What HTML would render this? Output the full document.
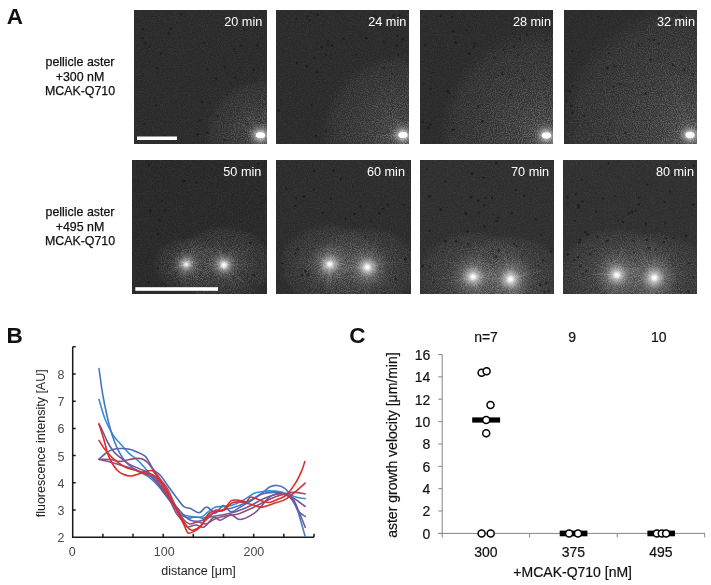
<!DOCTYPE html>
<html><head><meta charset="utf-8"><style>
html,body{margin:0;padding:0;background:#fff;width:711px;height:585px;overflow:hidden}
svg{display:block;will-change:transform}
text{font-family:"Liberation Sans",sans-serif}
.tm{font-size:12.7px;fill:#fff}
.rl{font-size:12.4px;fill:#111;stroke:#111;stroke-width:0.25px}
.pl{font-size:22.5px;font-weight:bold;fill:#111}
.bt{font-size:12.5px;fill:#4a4a4a}
.bl{font-size:12.5px;fill:#222}
.ct{font-size:14px;fill:#111;stroke:#111;stroke-width:0.2px}
.cl{font-size:14px;fill:#111;stroke:#111;stroke-width:0.2px}
</style></head><body>
<svg width="711" height="585" viewBox="0 0 711 585">
<defs>
<filter id="grain" x="0" y="0" width="100%" height="100%" color-interpolation-filters="sRGB">
  <feTurbulence type="fractalNoise" baseFrequency="0.93" numOctaves="2" seed="5"/>
  <feColorMatrix type="matrix" values="0 0 0 0 1  0 0 0 0 1  0 0 0 0 1  2.8 0 0 0 -1.05"/>
  <feGaussianBlur stdDeviation="0.45"/>
</filter>
<filter id="grainD" x="0" y="0" width="100%" height="100%" color-interpolation-filters="sRGB">
  <feTurbulence type="fractalNoise" baseFrequency="0.8" numOctaves="1" seed="11"/>
  <feColorMatrix type="matrix" values="0 0 0 0 0  0 0 0 0 0  0 0 0 0 0  -2.5 0 0 0 1.05"/>
</filter>
<filter id="blur1" x="-100%" y="-100%" width="300%" height="300%"><feGaussianBlur stdDeviation="2"/></filter>
<filter id="blur09" x="-50%" y="-50%" width="200%" height="200%"><feGaussianBlur stdDeviation="0.9"/></filter>
<filter id="blur3" x="-200%" y="-200%" width="500%" height="500%"><feGaussianBlur stdDeviation="3"/></filter>
<filter id="blur12" x="-100%" y="-100%" width="300%" height="300%"><feGaussianBlur stdDeviation="1.2"/></filter>
<filter id="blur05" x="-50%" y="-50%" width="200%" height="200%"><feGaussianBlur stdDeviation="0.6"/></filter>

<clipPath id="clip0"><rect x="134" y="10" width="133" height="134"/></clipPath>
<radialGradient id="rg0" cx="260.5" cy="135.2" r="56.0" gradientUnits="userSpaceOnUse" gradientTransform="translate(260.5 135.2) scale(1 1.00) translate(-260.5 -135.2)"><stop offset="0" stop-color="#777" stop-opacity="0.22"/><stop offset="0.3" stop-color="#666" stop-opacity="0.15"/><stop offset="0.85" stop-color="#555" stop-opacity="0.10"/><stop offset="1" stop-color="#555" stop-opacity="0"/></radialGradient>
<radialGradient id="gc1" cx="260.5" cy="135.2" r="14.0" gradientUnits="userSpaceOnUse"><stop offset="0" stop-color="#fff" stop-opacity="0.9"/><stop offset="0.2" stop-color="#ddd" stop-opacity="0.55"/><stop offset="0.5" stop-color="#999" stop-opacity="0.22"/><stop offset="1" stop-color="#777" stop-opacity="0"/></radialGradient>
<radialGradient id="gm2" cx="260.5" cy="135.2" r="56.0" gradientUnits="userSpaceOnUse" gradientTransform="translate(260.5 135.2) scale(1 1.00) translate(-260.5 -135.2)"><stop offset="0" stop-color="#fff" stop-opacity="1"/><stop offset="0.2" stop-color="#fff" stop-opacity="0.65"/><stop offset="0.6" stop-color="#fff" stop-opacity="0.38"/><stop offset="0.88" stop-color="#fff" stop-opacity="0.22"/><stop offset="1" stop-color="#fff" stop-opacity="0"/></radialGradient>
<mask id="m0" maskUnits="userSpaceOnUse" x="134" y="10" width="133" height="134"><rect x="134" y="10" width="133" height="134" fill="url(#gm2)"/></mask>
<clipPath id="clip3"><rect x="276" y="10" width="133" height="134"/></clipPath>
<radialGradient id="rg3" cx="403.0" cy="135.0" r="82.0" gradientUnits="userSpaceOnUse" gradientTransform="translate(403.0 135.0) scale(1 1.00) translate(-403.0 -135.0)"><stop offset="0" stop-color="#777" stop-opacity="0.24"/><stop offset="0.3" stop-color="#666" stop-opacity="0.17"/><stop offset="0.85" stop-color="#555" stop-opacity="0.11"/><stop offset="1" stop-color="#555" stop-opacity="0"/></radialGradient>
<radialGradient id="gc4" cx="403.0" cy="135.0" r="14.0" gradientUnits="userSpaceOnUse"><stop offset="0" stop-color="#fff" stop-opacity="0.9"/><stop offset="0.2" stop-color="#ddd" stop-opacity="0.55"/><stop offset="0.5" stop-color="#999" stop-opacity="0.22"/><stop offset="1" stop-color="#777" stop-opacity="0"/></radialGradient>
<radialGradient id="gm5" cx="403.0" cy="135.0" r="82.0" gradientUnits="userSpaceOnUse" gradientTransform="translate(403.0 135.0) scale(1 1.00) translate(-403.0 -135.0)"><stop offset="0" stop-color="#fff" stop-opacity="1"/><stop offset="0.2" stop-color="#fff" stop-opacity="0.65"/><stop offset="0.6" stop-color="#fff" stop-opacity="0.38"/><stop offset="0.88" stop-color="#fff" stop-opacity="0.22"/><stop offset="1" stop-color="#fff" stop-opacity="0"/></radialGradient>
<mask id="m3" maskUnits="userSpaceOnUse" x="276" y="10" width="133" height="134"><rect x="276" y="10" width="133" height="134" fill="url(#gm5)"/></mask>
<clipPath id="clip6"><rect x="420" y="10" width="133" height="134"/></clipPath>
<radialGradient id="rg6" cx="546.5" cy="135.5" r="108.0" gradientUnits="userSpaceOnUse" gradientTransform="translate(546.5 135.5) scale(1 1.00) translate(-546.5 -135.5)"><stop offset="0" stop-color="#777" stop-opacity="0.24"/><stop offset="0.3" stop-color="#666" stop-opacity="0.17"/><stop offset="0.85" stop-color="#555" stop-opacity="0.11"/><stop offset="1" stop-color="#555" stop-opacity="0"/></radialGradient>
<radialGradient id="gc7" cx="546.5" cy="135.5" r="14.0" gradientUnits="userSpaceOnUse"><stop offset="0" stop-color="#fff" stop-opacity="0.9"/><stop offset="0.2" stop-color="#ddd" stop-opacity="0.55"/><stop offset="0.5" stop-color="#999" stop-opacity="0.22"/><stop offset="1" stop-color="#777" stop-opacity="0"/></radialGradient>
<radialGradient id="gm8" cx="546.5" cy="135.5" r="108.0" gradientUnits="userSpaceOnUse" gradientTransform="translate(546.5 135.5) scale(1 1.00) translate(-546.5 -135.5)"><stop offset="0" stop-color="#fff" stop-opacity="1"/><stop offset="0.2" stop-color="#fff" stop-opacity="0.65"/><stop offset="0.6" stop-color="#fff" stop-opacity="0.38"/><stop offset="0.88" stop-color="#fff" stop-opacity="0.22"/><stop offset="1" stop-color="#fff" stop-opacity="0"/></radialGradient>
<mask id="m6" maskUnits="userSpaceOnUse" x="420" y="10" width="133" height="134"><rect x="420" y="10" width="133" height="134" fill="url(#gm8)"/></mask>
<clipPath id="clip9"><rect x="564" y="10" width="133" height="134"/></clipPath>
<radialGradient id="rg9" cx="690.0" cy="135.0" r="132.0" gradientUnits="userSpaceOnUse" gradientTransform="translate(690.0 135.0) scale(1 1.00) translate(-690.0 -135.0)"><stop offset="0" stop-color="#777" stop-opacity="0.26"/><stop offset="0.3" stop-color="#666" stop-opacity="0.18"/><stop offset="0.85" stop-color="#555" stop-opacity="0.12"/><stop offset="1" stop-color="#555" stop-opacity="0"/></radialGradient>
<radialGradient id="gc10" cx="690.0" cy="135.0" r="14.0" gradientUnits="userSpaceOnUse"><stop offset="0" stop-color="#fff" stop-opacity="0.9"/><stop offset="0.2" stop-color="#ddd" stop-opacity="0.55"/><stop offset="0.5" stop-color="#999" stop-opacity="0.22"/><stop offset="1" stop-color="#777" stop-opacity="0"/></radialGradient>
<radialGradient id="gm11" cx="690.0" cy="135.0" r="132.0" gradientUnits="userSpaceOnUse" gradientTransform="translate(690.0 135.0) scale(1 1.00) translate(-690.0 -135.0)"><stop offset="0" stop-color="#fff" stop-opacity="1"/><stop offset="0.2" stop-color="#fff" stop-opacity="0.65"/><stop offset="0.6" stop-color="#fff" stop-opacity="0.38"/><stop offset="0.88" stop-color="#fff" stop-opacity="0.22"/><stop offset="1" stop-color="#fff" stop-opacity="0"/></radialGradient>
<mask id="m9" maskUnits="userSpaceOnUse" x="564" y="10" width="133" height="134"><rect x="564" y="10" width="133" height="134" fill="url(#gm11)"/></mask>
<clipPath id="clip12"><rect x="132" y="160" width="135" height="134"/></clipPath>
<radialGradient id="rg12" cx="186.3" cy="264.3" r="34.0" gradientUnits="userSpaceOnUse" gradientTransform="translate(186.3 264.3) scale(1 0.80) translate(-186.3 -264.3)"><stop offset="0" stop-color="#777" stop-opacity="0.18"/><stop offset="0.3" stop-color="#666" stop-opacity="0.12"/><stop offset="0.85" stop-color="#555" stop-opacity="0.08"/><stop offset="1" stop-color="#555" stop-opacity="0"/></radialGradient>
<radialGradient id="gc13" cx="186.3" cy="264.3" r="15.0" gradientUnits="userSpaceOnUse"><stop offset="0" stop-color="#fff" stop-opacity="0.9"/><stop offset="0.2" stop-color="#ddd" stop-opacity="0.55"/><stop offset="0.5" stop-color="#999" stop-opacity="0.22"/><stop offset="1" stop-color="#777" stop-opacity="0"/></radialGradient>
<radialGradient id="gm14" cx="186.3" cy="264.3" r="34.0" gradientUnits="userSpaceOnUse" gradientTransform="translate(186.3 264.3) scale(1 0.80) translate(-186.3 -264.3)"><stop offset="0" stop-color="#fff" stop-opacity="1"/><stop offset="0.2" stop-color="#fff" stop-opacity="0.65"/><stop offset="0.6" stop-color="#fff" stop-opacity="0.38"/><stop offset="0.88" stop-color="#fff" stop-opacity="0.22"/><stop offset="1" stop-color="#fff" stop-opacity="0"/></radialGradient>
<radialGradient id="rg15" cx="224.0" cy="265.0" r="50.0" gradientUnits="userSpaceOnUse" gradientTransform="translate(224.0 265.0) scale(1 0.80) translate(-224.0 -265.0)"><stop offset="0" stop-color="#777" stop-opacity="0.24"/><stop offset="0.3" stop-color="#666" stop-opacity="0.17"/><stop offset="0.85" stop-color="#555" stop-opacity="0.11"/><stop offset="1" stop-color="#555" stop-opacity="0"/></radialGradient>
<radialGradient id="gc16" cx="224.0" cy="265.0" r="15.0" gradientUnits="userSpaceOnUse"><stop offset="0" stop-color="#fff" stop-opacity="0.9"/><stop offset="0.2" stop-color="#ddd" stop-opacity="0.55"/><stop offset="0.5" stop-color="#999" stop-opacity="0.22"/><stop offset="1" stop-color="#777" stop-opacity="0"/></radialGradient>
<radialGradient id="gm17" cx="224.0" cy="265.0" r="50.0" gradientUnits="userSpaceOnUse" gradientTransform="translate(224.0 265.0) scale(1 0.80) translate(-224.0 -265.0)"><stop offset="0" stop-color="#fff" stop-opacity="1"/><stop offset="0.2" stop-color="#fff" stop-opacity="0.65"/><stop offset="0.6" stop-color="#fff" stop-opacity="0.38"/><stop offset="0.88" stop-color="#fff" stop-opacity="0.22"/><stop offset="1" stop-color="#fff" stop-opacity="0"/></radialGradient>
<mask id="m12" maskUnits="userSpaceOnUse" x="132" y="160" width="135" height="134"><rect x="132" y="160" width="135" height="134" fill="url(#gm14)"/><rect x="132" y="160" width="135" height="134" fill="url(#gm17)"/></mask>
<clipPath id="clip18"><rect x="276" y="160" width="135" height="134"/></clipPath>
<radialGradient id="rg18" cx="329.8" cy="264.3" r="52.0" gradientUnits="userSpaceOnUse" gradientTransform="translate(329.8 264.3) scale(1 0.80) translate(-329.8 -264.3)"><stop offset="0" stop-color="#777" stop-opacity="0.24"/><stop offset="0.3" stop-color="#666" stop-opacity="0.17"/><stop offset="0.85" stop-color="#555" stop-opacity="0.11"/><stop offset="1" stop-color="#555" stop-opacity="0"/></radialGradient>
<radialGradient id="gc19" cx="329.8" cy="264.3" r="22.0" gradientUnits="userSpaceOnUse"><stop offset="0" stop-color="#fff" stop-opacity="0.9"/><stop offset="0.2" stop-color="#ddd" stop-opacity="0.55"/><stop offset="0.5" stop-color="#999" stop-opacity="0.22"/><stop offset="1" stop-color="#777" stop-opacity="0"/></radialGradient>
<radialGradient id="gm20" cx="329.8" cy="264.3" r="52.0" gradientUnits="userSpaceOnUse" gradientTransform="translate(329.8 264.3) scale(1 0.80) translate(-329.8 -264.3)"><stop offset="0" stop-color="#fff" stop-opacity="1"/><stop offset="0.2" stop-color="#fff" stop-opacity="0.65"/><stop offset="0.6" stop-color="#fff" stop-opacity="0.38"/><stop offset="0.88" stop-color="#fff" stop-opacity="0.22"/><stop offset="1" stop-color="#fff" stop-opacity="0"/></radialGradient>
<radialGradient id="rg21" cx="367.4" cy="267.2" r="52.0" gradientUnits="userSpaceOnUse" gradientTransform="translate(367.4 267.2) scale(1 0.80) translate(-367.4 -267.2)"><stop offset="0" stop-color="#777" stop-opacity="0.24"/><stop offset="0.3" stop-color="#666" stop-opacity="0.17"/><stop offset="0.85" stop-color="#555" stop-opacity="0.11"/><stop offset="1" stop-color="#555" stop-opacity="0"/></radialGradient>
<radialGradient id="gc22" cx="367.4" cy="267.2" r="22.0" gradientUnits="userSpaceOnUse"><stop offset="0" stop-color="#fff" stop-opacity="0.9"/><stop offset="0.2" stop-color="#ddd" stop-opacity="0.55"/><stop offset="0.5" stop-color="#999" stop-opacity="0.22"/><stop offset="1" stop-color="#777" stop-opacity="0"/></radialGradient>
<radialGradient id="gm23" cx="367.4" cy="267.2" r="52.0" gradientUnits="userSpaceOnUse" gradientTransform="translate(367.4 267.2) scale(1 0.80) translate(-367.4 -267.2)"><stop offset="0" stop-color="#fff" stop-opacity="1"/><stop offset="0.2" stop-color="#fff" stop-opacity="0.65"/><stop offset="0.6" stop-color="#fff" stop-opacity="0.38"/><stop offset="0.88" stop-color="#fff" stop-opacity="0.22"/><stop offset="1" stop-color="#fff" stop-opacity="0"/></radialGradient>
<mask id="m18" maskUnits="userSpaceOnUse" x="276" y="160" width="135" height="134"><rect x="276" y="160" width="135" height="134" fill="url(#gm20)"/><rect x="276" y="160" width="135" height="134" fill="url(#gm23)"/></mask>
<clipPath id="clip24"><rect x="420" y="160" width="134" height="134"/></clipPath>
<radialGradient id="rg24" cx="473.1" cy="276.8" r="58.0" gradientUnits="userSpaceOnUse" gradientTransform="translate(473.1 276.8) scale(1 0.80) translate(-473.1 -276.8)"><stop offset="0" stop-color="#777" stop-opacity="0.24"/><stop offset="0.3" stop-color="#666" stop-opacity="0.17"/><stop offset="0.85" stop-color="#555" stop-opacity="0.11"/><stop offset="1" stop-color="#555" stop-opacity="0"/></radialGradient>
<radialGradient id="gc25" cx="473.1" cy="276.8" r="24.0" gradientUnits="userSpaceOnUse"><stop offset="0" stop-color="#fff" stop-opacity="0.9"/><stop offset="0.2" stop-color="#ddd" stop-opacity="0.55"/><stop offset="0.5" stop-color="#999" stop-opacity="0.22"/><stop offset="1" stop-color="#777" stop-opacity="0"/></radialGradient>
<radialGradient id="gm26" cx="473.1" cy="276.8" r="58.0" gradientUnits="userSpaceOnUse" gradientTransform="translate(473.1 276.8) scale(1 0.80) translate(-473.1 -276.8)"><stop offset="0" stop-color="#fff" stop-opacity="1"/><stop offset="0.2" stop-color="#fff" stop-opacity="0.65"/><stop offset="0.6" stop-color="#fff" stop-opacity="0.38"/><stop offset="0.88" stop-color="#fff" stop-opacity="0.22"/><stop offset="1" stop-color="#fff" stop-opacity="0"/></radialGradient>
<radialGradient id="rg27" cx="510.5" cy="279.2" r="56.0" gradientUnits="userSpaceOnUse" gradientTransform="translate(510.5 279.2) scale(1 0.80) translate(-510.5 -279.2)"><stop offset="0" stop-color="#777" stop-opacity="0.24"/><stop offset="0.3" stop-color="#666" stop-opacity="0.17"/><stop offset="0.85" stop-color="#555" stop-opacity="0.11"/><stop offset="1" stop-color="#555" stop-opacity="0"/></radialGradient>
<radialGradient id="gc28" cx="510.5" cy="279.2" r="24.0" gradientUnits="userSpaceOnUse"><stop offset="0" stop-color="#fff" stop-opacity="0.9"/><stop offset="0.2" stop-color="#ddd" stop-opacity="0.55"/><stop offset="0.5" stop-color="#999" stop-opacity="0.22"/><stop offset="1" stop-color="#777" stop-opacity="0"/></radialGradient>
<radialGradient id="gm29" cx="510.5" cy="279.2" r="56.0" gradientUnits="userSpaceOnUse" gradientTransform="translate(510.5 279.2) scale(1 0.80) translate(-510.5 -279.2)"><stop offset="0" stop-color="#fff" stop-opacity="1"/><stop offset="0.2" stop-color="#fff" stop-opacity="0.65"/><stop offset="0.6" stop-color="#fff" stop-opacity="0.38"/><stop offset="0.88" stop-color="#fff" stop-opacity="0.22"/><stop offset="1" stop-color="#fff" stop-opacity="0"/></radialGradient>
<mask id="m24" maskUnits="userSpaceOnUse" x="420" y="160" width="134" height="134"><rect x="420" y="160" width="134" height="134" fill="url(#gm26)"/><rect x="420" y="160" width="134" height="134" fill="url(#gm29)"/></mask>
<clipPath id="clip30"><rect x="563" y="160" width="134" height="134"/></clipPath>
<radialGradient id="rg30" cx="616.9" cy="274.9" r="60.0" gradientUnits="userSpaceOnUse" gradientTransform="translate(616.9 274.9) scale(1 0.80) translate(-616.9 -274.9)"><stop offset="0" stop-color="#777" stop-opacity="0.24"/><stop offset="0.3" stop-color="#666" stop-opacity="0.17"/><stop offset="0.85" stop-color="#555" stop-opacity="0.11"/><stop offset="1" stop-color="#555" stop-opacity="0"/></radialGradient>
<radialGradient id="gc31" cx="616.9" cy="274.9" r="24.0" gradientUnits="userSpaceOnUse"><stop offset="0" stop-color="#fff" stop-opacity="0.9"/><stop offset="0.2" stop-color="#ddd" stop-opacity="0.55"/><stop offset="0.5" stop-color="#999" stop-opacity="0.22"/><stop offset="1" stop-color="#777" stop-opacity="0"/></radialGradient>
<radialGradient id="gm32" cx="616.9" cy="274.9" r="60.0" gradientUnits="userSpaceOnUse" gradientTransform="translate(616.9 274.9) scale(1 0.80) translate(-616.9 -274.9)"><stop offset="0" stop-color="#fff" stop-opacity="1"/><stop offset="0.2" stop-color="#fff" stop-opacity="0.65"/><stop offset="0.6" stop-color="#fff" stop-opacity="0.38"/><stop offset="0.88" stop-color="#fff" stop-opacity="0.22"/><stop offset="1" stop-color="#fff" stop-opacity="0"/></radialGradient>
<radialGradient id="rg33" cx="654.4" cy="277.8" r="58.0" gradientUnits="userSpaceOnUse" gradientTransform="translate(654.4 277.8) scale(1 0.80) translate(-654.4 -277.8)"><stop offset="0" stop-color="#777" stop-opacity="0.24"/><stop offset="0.3" stop-color="#666" stop-opacity="0.17"/><stop offset="0.85" stop-color="#555" stop-opacity="0.11"/><stop offset="1" stop-color="#555" stop-opacity="0"/></radialGradient>
<radialGradient id="gc34" cx="654.4" cy="277.8" r="24.0" gradientUnits="userSpaceOnUse"><stop offset="0" stop-color="#fff" stop-opacity="0.9"/><stop offset="0.2" stop-color="#ddd" stop-opacity="0.55"/><stop offset="0.5" stop-color="#999" stop-opacity="0.22"/><stop offset="1" stop-color="#777" stop-opacity="0"/></radialGradient>
<radialGradient id="gm35" cx="654.4" cy="277.8" r="58.0" gradientUnits="userSpaceOnUse" gradientTransform="translate(654.4 277.8) scale(1 0.80) translate(-654.4 -277.8)"><stop offset="0" stop-color="#fff" stop-opacity="1"/><stop offset="0.2" stop-color="#fff" stop-opacity="0.65"/><stop offset="0.6" stop-color="#fff" stop-opacity="0.38"/><stop offset="0.88" stop-color="#fff" stop-opacity="0.22"/><stop offset="1" stop-color="#fff" stop-opacity="0"/></radialGradient>
<mask id="m30" maskUnits="userSpaceOnUse" x="563" y="160" width="134" height="134"><rect x="563" y="160" width="134" height="134" fill="url(#gm32)"/><rect x="563" y="160" width="134" height="134" fill="url(#gm35)"/></mask></defs>
<g clip-path="url(#clip0)">
<rect x="134" y="10" width="133" height="134" fill="#2a2a2a"/>
<rect x="134" y="10" width="133" height="134" filter="url(#grain)" opacity="0.05"/>
<rect x="134" y="10" width="133" height="134" filter="url(#grainD)" opacity="0.22"/>
<rect x="134" y="10" width="133" height="134" fill="url(#rg0)"/>
<rect x="134" y="10" width="133" height="134" fill="url(#gc1)"/>
<g mask="url(#m0)"><rect x="134" y="10" width="133" height="134" filter="url(#grain)" opacity="0.28"/></g>
<path d="M257.8,140.6L254.7,146.9M264.2,137.0L282.9,146.1M262.3,135.9L283.0,143.8M258.4,136.1L250.9,139.5M258.3,136.3L230.4,150.7M261.8,143.1L265.1,162.5M253.2,131.4L242.3,125.6M264.0,136.2L293.9,145.3M262.8,138.2L267.9,144.7M262.8,130.1L266.1,122.4M257.1,131.1L247.7,120.0M263.3,136.4L269.9,139.1M258.9,131.8L251.4,115.7M257.3,133.3L241.3,123.8M261.4,132.0L268.7,106.4M253.8,131.8L238.6,124.1M259.4,127.0L258.3,118.1M265.5,139.8L276.2,149.6M261.6,136.8L274.1,154.4M257.8,130.4L244.8,107.4M265.0,130.7L273.3,122.5M256.6,132.5L238.7,120.5M263.1,131.1L280.6,103.5M257.2,129.7L255.2,126.4M256.2,129.4L237.0,104.1M259.2,141.2L256.1,155.0M263.3,135.6L282.9,138.4M265.6,139.8L268.1,142.1M263.5,138.3L271.5,146.8M263.7,131.8L268.0,127.3M253.7,133.0L226.6,124.3M263.4,131.8L271.6,122.4M255.4,141.5L238.0,162.8M262.4,137.8L268.6,146.4M261.1,140.8L262.9,158.4M260.1,139.7L259.8,143.7M255.0,141.1L242.9,154.1M258.4,129.8L251.6,112.6M257.0,128.3L256.0,126.2M261.8,128.3L267.1,100.5M258.6,136.7L244.4,148.1M259.1,133.6L253.6,127.5M261.5,139.0L263.9,148.2M263.1,136.1L268.5,137.9M262.0,136.3L276.2,146.9M262.4,133.3L279.7,115.8M260.4,139.3L260.2,154.3M266.5,141.0L285.3,159.3M258.3,135.7L237.7,140.1M263.3,137.3L275.7,146.6M261.4,133.6L266.9,123.4M263.0,134.4L284.0,127.7M255.5,133.8L251.6,132.7M266.8,134.3L295.2,130.5M260.3,138.0L259.1,154.8M261.5,128.4L263.9,110.6M257.1,141.5L253.2,148.6M267.6,134.5L295.0,131.9M261.8,132.3L273.5,106.8M258.6,135.0L241.3,133.1M263.9,135.8L277.2,138.2M258.8,130.8L247.1,99.8M268.0,132.1L296.3,120.2M258.4,137.6L250.5,146.6M262.4,140.7L265.3,149.1M264.5,132.3L288.3,115.1M259.2,133.4L241.6,108.1M256.8,129.3L241.1,104.4M260.5,132.3L260.5,112.1M262.2,128.4L265.0,117.1M264.8,134.4L280.8,131.6M263.2,134.3L289.5,125.1M265.9,140.8L269.6,144.5M263.0,128.4L265.0,123.1M264.5,134.7L288.9,131.7M258.8,134.7L248.6,131.5M265.6,134.3L288.4,130.0M267.4,132.1L280.4,126.4M262.1,132.2L267.4,122.0M259.0,140.6L256.3,150.4M260.3,137.8L259.2,156.5M264.5,132.7L276.8,124.9M256.6,132.9L229.1,117.1M265.1,132.6L281.2,123.4M255.9,134.5L251.6,133.9M263.4,141.6L264.0,143.0M263.6,141.0L271.3,155.5M255.7,133.4L243.2,128.8M258.3,134.4L229.9,124.1M257.2,133.9L245.6,129.3" stroke="#e0e0e0" stroke-width="0.5" stroke-opacity="0.07" fill="none"/>
<g fill="#141414" opacity="0.65" filter="url(#blur05)"><ellipse cx="235.6" cy="78.0" rx="1.1" ry="1.3"/><ellipse cx="253.7" cy="69.6" rx="1.2" ry="1.1"/><ellipse cx="202.1" cy="102.1" rx="1.1" ry="1.1"/><ellipse cx="197.7" cy="134.4" rx="1.2" ry="1.3"/><ellipse cx="257.5" cy="45.7" rx="1.1" ry="1.4"/><ellipse cx="244.4" cy="29.8" rx="0.9" ry="1.1"/><ellipse cx="145.4" cy="43.3" rx="0.8" ry="1.2"/><ellipse cx="155.9" cy="105.1" rx="1.2" ry="0.9"/><ellipse cx="164.3" cy="135.8" rx="1.0" ry="1.1"/><ellipse cx="156.8" cy="68.1" rx="1.1" ry="1.0"/><ellipse cx="161.3" cy="53.4" rx="1.2" ry="0.8"/><ellipse cx="207.5" cy="69.3" rx="0.8" ry="1.0"/><ellipse cx="216.5" cy="78.6" rx="0.8" ry="1.4"/><ellipse cx="149.5" cy="46.5" rx="0.8" ry="1.3"/><ellipse cx="170.9" cy="28.8" rx="1.1" ry="1.3"/><ellipse cx="241.6" cy="45.6" rx="0.9" ry="1.4"/><ellipse cx="209.6" cy="103.1" rx="0.9" ry="0.8"/><ellipse cx="224.8" cy="67.3" rx="0.8" ry="1.4"/><ellipse cx="217.8" cy="116.2" rx="0.9" ry="1.3"/><ellipse cx="144.6" cy="124.2" rx="1.1" ry="1.0"/><ellipse cx="207.3" cy="132.5" rx="1.0" ry="0.9"/><ellipse cx="204.0" cy="43.0" rx="0.9" ry="0.9"/><ellipse cx="142.5" cy="38.2" rx="1.0" ry="1.0"/><ellipse cx="234.0" cy="49.7" rx="1.1" ry="0.9"/><ellipse cx="180.8" cy="14.4" rx="1.0" ry="0.8"/><ellipse cx="230.6" cy="83.6" rx="0.9" ry="1.1"/><ellipse cx="256.6" cy="25.8" rx="1.3" ry="1.1"/><ellipse cx="199.9" cy="120.5" rx="1.0" ry="1.1"/><ellipse cx="224.7" cy="139.7" rx="1.0" ry="1.3"/><ellipse cx="227.2" cy="94.7" rx="1.0" ry="1.0"/><ellipse cx="143.0" cy="28.9" rx="0.8" ry="1.2"/><ellipse cx="169.0" cy="33.2" rx="0.9" ry="1.3"/></g>
<ellipse cx="260.5" cy="135.2" rx="7.4" ry="5.2" fill="#fff" opacity="0.5" filter="url(#blur3)"/>
<ellipse cx="260.5" cy="135.2" rx="4.6" ry="2.9" fill="#fff" filter="url(#blur05)"/>
<rect x="137.0" y="136.5" width="40.0" height="3.5" fill="#fff"/>
<text x="262.3" y="25.7" text-anchor="end" class="tm">20 min</text>
</g>
<g clip-path="url(#clip3)">
<rect x="276" y="10" width="133" height="134" fill="#2a2a2a"/>
<rect x="276" y="10" width="133" height="134" filter="url(#grain)" opacity="0.05"/>
<rect x="276" y="10" width="133" height="134" filter="url(#grainD)" opacity="0.22"/>
<rect x="276" y="10" width="133" height="134" fill="url(#rg3)"/>
<rect x="276" y="10" width="133" height="134" fill="url(#gc4)"/>
<g mask="url(#m3)"><rect x="276" y="10" width="133" height="134" filter="url(#grain)" opacity="0.28"/></g>
<path d="M406.6,131.2L432.2,104.1M403.3,142.0L404.2,160.5M405.8,139.2L420.8,162.1M410.6,133.1L457.6,121.6M403.2,140.5L404.9,190.8M399.1,139.9L395.3,144.7M398.6,135.7L368.5,140.5M397.9,134.8L390.5,134.6M405.4,136.5L428.6,151.2M407.7,135.7L428.8,138.7M394.5,130.0L371.9,116.5M396.9,125.7L378.5,97.7M393.7,142.8L382.2,152.3M408.2,142.1L429.5,171.3M413.8,138.1L451.1,148.6M395.7,127.5L371.4,102.4M407.8,140.7L426.0,162.6M408.4,125.9L427.7,93.2M395.1,130.4L357.6,108.5M402.0,132.4L395.1,113.8M405.3,137.6L422.1,156.2M407.4,127.6L422.2,102.8M397.9,129.8L372.8,104.4M412.8,135.2L451.3,136.0M394.1,134.8L366.6,134.3M407.5,137.0L444.7,153.4M411.6,139.3L424.7,145.9M406.3,146.6L415.7,178.9M395.8,135.3L373.5,136.1M399.5,127.2L384.0,92.1M400.6,131.9L393.1,122.7M402.9,140.5L401.9,180.8M400.2,133.7L391.3,129.7M401.9,144.2L398.0,177.3M399.6,128.3L391.6,112.3M399.5,135.8L370.5,142.3M412.5,127.5L419.7,121.8M409.4,132.3L415.1,129.9M405.9,128.8L426.8,84.3M401.6,146.7L400.5,156.6M403.9,138.7L412.4,172.4M399.3,134.4L348.4,126.7M407.8,124.9L418.0,103.1M399.7,124.2L396.4,113.2M400.5,135.2L389.6,136.2M397.6,135.3L370.4,136.7M406.5,139.3L420.6,156.5M408.3,126.7L409.6,124.6M409.1,125.2L412.4,120.0M401.8,129.8L390.8,83.5M394.5,143.8L382.1,156.6M397.3,131.5L378.8,119.8M402.5,138.4L400.7,149.3M408.9,124.9L415.8,113.3M403.0,142.5L403.1,159.3M407.4,146.0L413.8,162.1M409.5,129.2L439.5,102.5M409.7,130.9L449.8,106.7M401.2,125.5L400.2,120.7M394.6,137.7L358.9,149.1M400.4,146.3L399.7,149.1M407.1,139.2L426.4,159.1M399.4,146.5L389.5,178.6M402.7,140.4L400.3,176.8M399.2,133.6L374.8,124.4M409.0,144.7L414.4,153.4M391.6,135.2L380.8,135.4M406.8,134.9L435.6,134.3M405.1,140.4L408.8,150.3M407.2,137.7L422.4,147.5M394.1,130.8L355.6,112.8M396.5,139.0L376.6,151.1M400.8,137.1L383.3,154.3M402.4,138.6L393.4,190.1M392.1,134.8L362.3,134.1M404.0,139.8L408.2,159.0M393.4,142.0L376.8,154.1M404.6,132.8L433.0,93.0M414.0,137.3L446.4,143.9M400.6,135.4L364.8,141.5M394.8,141.7L361.0,169.1M406.0,131.1L437.5,90.7M408.9,139.8L417.9,147.2M399.0,126.3L380.3,85.2M398.8,129.4L374.9,97.6M393.4,131.8L389.6,130.5M404.0,143.8L408.9,188.5M401.4,139.7L397.0,152.0M400.7,132.3L374.3,101.9M410.4,138.5L435.5,150.4" stroke="#e0e0e0" stroke-width="0.5" stroke-opacity="0.07" fill="none"/>
<g fill="#141414" opacity="0.65" filter="url(#blur05)"><ellipse cx="328.1" cy="41.1" rx="1.2" ry="0.8"/><ellipse cx="316.9" cy="71.9" rx="1.4" ry="1.2"/><ellipse cx="392.0" cy="73.8" rx="0.9" ry="0.9"/><ellipse cx="317.7" cy="14.8" rx="1.1" ry="1.2"/><ellipse cx="332.2" cy="45.4" rx="1.2" ry="1.4"/><ellipse cx="307.3" cy="16.4" rx="1.0" ry="1.1"/><ellipse cx="366.1" cy="37.8" rx="1.3" ry="1.2"/><ellipse cx="343.1" cy="38.7" rx="1.4" ry="1.0"/><ellipse cx="383.8" cy="42.0" rx="0.9" ry="1.3"/><ellipse cx="316.0" cy="135.8" rx="1.1" ry="0.9"/><ellipse cx="306.8" cy="66.2" rx="1.2" ry="1.4"/><ellipse cx="296.9" cy="63.1" rx="0.9" ry="1.4"/><ellipse cx="296.3" cy="18.7" rx="0.8" ry="1.0"/><ellipse cx="398.2" cy="54.8" rx="0.9" ry="1.4"/><ellipse cx="374.3" cy="16.1" rx="1.2" ry="1.0"/><ellipse cx="326.2" cy="55.1" rx="0.9" ry="0.8"/><ellipse cx="314.1" cy="57.7" rx="1.4" ry="0.9"/><ellipse cx="402.4" cy="39.0" rx="1.0" ry="1.3"/><ellipse cx="384.0" cy="68.2" rx="0.8" ry="1.1"/><ellipse cx="326.1" cy="131.5" rx="0.9" ry="1.0"/><ellipse cx="393.7" cy="15.9" rx="1.0" ry="1.3"/><ellipse cx="376.9" cy="17.3" rx="0.8" ry="0.8"/><ellipse cx="396.7" cy="45.4" rx="1.2" ry="1.3"/><ellipse cx="321.7" cy="47.4" rx="1.4" ry="1.2"/><ellipse cx="311.8" cy="105.2" rx="1.0" ry="1.0"/><ellipse cx="278.5" cy="110.2" rx="1.3" ry="1.2"/><ellipse cx="399.7" cy="15.2" rx="0.9" ry="1.1"/><ellipse cx="327.9" cy="44.6" rx="1.1" ry="1.1"/><ellipse cx="397.7" cy="35.8" rx="1.3" ry="1.2"/><ellipse cx="356.3" cy="54.6" rx="1.0" ry="1.0"/><ellipse cx="378.9" cy="22.3" rx="0.9" ry="1.3"/><ellipse cx="309.9" cy="20.4" rx="0.8" ry="1.1"/></g>
<ellipse cx="403.0" cy="135.0" rx="7.4" ry="5.2" fill="#fff" opacity="0.5" filter="url(#blur3)"/>
<ellipse cx="403.0" cy="135.0" rx="4.6" ry="2.9" fill="#fff" filter="url(#blur05)"/>
<text x="406.3" y="25.7" text-anchor="end" class="tm">24 min</text>
</g>
<g clip-path="url(#clip6)">
<rect x="420" y="10" width="133" height="134" fill="#2a2a2a"/>
<rect x="420" y="10" width="133" height="134" filter="url(#grain)" opacity="0.05"/>
<rect x="420" y="10" width="133" height="134" filter="url(#grainD)" opacity="0.22"/>
<rect x="420" y="10" width="133" height="134" fill="url(#rg6)"/>
<rect x="420" y="10" width="133" height="134" fill="url(#gc7)"/>
<g mask="url(#m6)"><rect x="420" y="10" width="133" height="134" filter="url(#grain)" opacity="0.28"/></g>
<path d="M539.8,148.6L512.4,201.7M550.8,135.2L578.3,133.1M556.7,142.6L584.2,161.6M538.3,138.3L518.0,145.3M537.1,126.6L505.6,96.9M549.3,131.6L578.4,89.9M552.2,126.6L564.7,107.2M542.4,139.7L504.6,178.5M546.6,140.7L547.0,166.3M552.1,130.5L584.2,101.9M538.7,141.5L486.8,181.2M547.9,147.1L554.0,199.3M555.9,135.0L568.7,134.2M552.8,121.8L574.3,75.5M551.1,136.7L579.1,143.9M550.5,145.5L573.9,204.2M559.6,129.4L581.2,119.2M533.9,139.7L516.5,145.4M556.8,131.8L567.7,128.0M540.7,130.0L525.3,115.6M550.6,140.6L564.4,157.5M541.7,132.1L502.0,103.4M558.5,136.4L582.0,138.0M548.8,140.9L560.3,167.4M547.6,131.6L560.2,88.7M554.8,141.7L578.4,159.1M543.1,131.4L532.6,118.9M544.2,129.0L532.9,97.3M543.9,142.3L520.7,203.6M538.6,132.0L512.3,120.3M551.7,129.5L596.1,78.7M548.4,141.1L565.9,191.7M555.2,135.8L616.2,138.1M552.8,122.2L563.8,99.0M543.2,136.3L521.4,141.8M532.3,130.7L495.1,118.2M553.3,139.8L591.6,163.7M539.6,135.3L521.6,134.8M541.9,134.9L476.0,126.1M530.8,136.4L482.6,139.3M551.5,150.1L554.2,157.9M550.4,134.9L590.8,128.6M559.9,128.8L581.6,117.9M542.6,131.9L499.1,90.8M548.4,127.2L553.1,106.9M549.7,130.9L583.7,81.7M548.5,145.3L554.4,174.6M541.7,139.8L529.0,151.2M545.9,131.8L535.6,66.9M543.0,134.1L489.9,112.1M552.3,126.1L558.7,115.8M539.6,133.3L495.7,119.0M538.8,139.7L502.0,160.0M541.7,128.0L523.3,99.6M556.0,136.9L598.9,143.3M547.7,148.8L552.2,196.8M537.4,137.9L520.6,142.5M553.4,141.0L565.1,150.4M554.8,140.9L582.1,158.6M550.7,136.6L598.7,149.2M545.5,125.7L540.0,73.4M554.2,138.2L590.0,150.9M560.2,131.1L569.6,128.1M560.3,135.2L606.2,134.0M549.8,144.5L572.3,205.4M551.7,134.1L614.5,116.5M547.5,131.5L563.6,66.1M543.4,139.8L510.3,184.7M557.5,127.1L572.4,115.8M555.9,147.4L575.0,171.6M549.0,145.0L554.7,166.2M544.1,140.6L538.8,152.2M552.9,145.7L584.5,196.4M557.1,127.3L567.3,119.5M555.1,143.1L582.3,167.1M539.9,143.5L503.2,188.0M542.5,133.3L486.4,102.4M554.8,135.1L600.1,133.1M551.2,120.1L555.9,105.0M534.9,129.4L513.3,117.9M534.5,140.1L521.5,145.0M552.7,137.5L608.4,154.9M539.6,127.2L498.6,78.2M544.8,132.7L528.6,105.7M557.5,137.9L571.0,140.8M533.0,141.6L504.0,154.8M554.4,144.1L566.6,157.4M554.3,136.6L562.7,137.8M551.3,139.3L575.9,158.7M541.4,132.5L502.2,109.8" stroke="#e0e0e0" stroke-width="0.5" stroke-opacity="0.07" fill="none"/>
<g fill="#141414" opacity="0.65" filter="url(#blur05)"><ellipse cx="502.5" cy="73.7" rx="0.9" ry="1.4"/><ellipse cx="453.4" cy="31.4" rx="0.9" ry="1.2"/><ellipse cx="473.9" cy="46.4" rx="0.8" ry="1.2"/><ellipse cx="494.5" cy="57.5" rx="1.2" ry="1.1"/><ellipse cx="454.1" cy="129.5" rx="0.8" ry="1.1"/><ellipse cx="474.4" cy="42.9" rx="0.8" ry="1.3"/><ellipse cx="423.6" cy="83.6" rx="1.4" ry="0.9"/><ellipse cx="447.7" cy="91.1" rx="1.1" ry="1.2"/><ellipse cx="526.9" cy="34.7" rx="1.0" ry="1.0"/><ellipse cx="428.3" cy="127.6" rx="1.3" ry="1.2"/><ellipse cx="422.8" cy="121.8" rx="1.2" ry="1.1"/><ellipse cx="517.7" cy="70.8" rx="0.9" ry="0.9"/><ellipse cx="452.0" cy="17.0" rx="1.0" ry="1.2"/><ellipse cx="513.8" cy="46.6" rx="1.1" ry="1.1"/><ellipse cx="523.7" cy="80.0" rx="1.0" ry="1.2"/><ellipse cx="546.5" cy="40.2" rx="1.3" ry="0.8"/><ellipse cx="455.6" cy="42.7" rx="1.2" ry="1.4"/><ellipse cx="518.3" cy="54.5" rx="1.3" ry="1.0"/><ellipse cx="452.9" cy="130.0" rx="1.2" ry="1.2"/><ellipse cx="482.6" cy="121.2" rx="1.2" ry="1.3"/><ellipse cx="478.4" cy="106.2" rx="1.1" ry="1.0"/><ellipse cx="449.3" cy="92.9" rx="0.8" ry="1.3"/><ellipse cx="440.7" cy="15.5" rx="0.9" ry="1.4"/><ellipse cx="466.5" cy="30.4" rx="0.8" ry="0.8"/><ellipse cx="511.3" cy="94.4" rx="1.2" ry="1.2"/><ellipse cx="430.5" cy="88.8" rx="1.0" ry="1.3"/><ellipse cx="430.5" cy="124.8" rx="1.3" ry="1.4"/><ellipse cx="435.8" cy="38.7" rx="0.9" ry="0.8"/><ellipse cx="503.5" cy="49.4" rx="0.9" ry="0.9"/><ellipse cx="519.7" cy="38.6" rx="1.0" ry="1.1"/><ellipse cx="424.7" cy="45.4" rx="1.0" ry="1.2"/><ellipse cx="469.5" cy="53.7" rx="1.4" ry="1.1"/></g>
<ellipse cx="546.5" cy="135.5" rx="7.4" ry="5.2" fill="#fff" opacity="0.5" filter="url(#blur3)"/>
<ellipse cx="546.5" cy="135.5" rx="4.6" ry="2.9" fill="#fff" filter="url(#blur05)"/>
<text x="551.0" y="25.7" text-anchor="end" class="tm">28 min</text>
</g>
<g clip-path="url(#clip9)">
<rect x="564" y="10" width="133" height="134" fill="#2a2a2a"/>
<rect x="564" y="10" width="133" height="134" filter="url(#grain)" opacity="0.05"/>
<rect x="564" y="10" width="133" height="134" filter="url(#grainD)" opacity="0.22"/>
<rect x="564" y="10" width="133" height="134" fill="url(#rg9)"/>
<rect x="564" y="10" width="133" height="134" fill="url(#gc10)"/>
<g mask="url(#m9)"><rect x="564" y="10" width="133" height="134" filter="url(#grain)" opacity="0.28"/></g>
<path d="M692.6,131.4L728.5,83.0M676.2,143.4L646.0,161.8M682.9,145.2L649.5,193.2M691.1,140.3L707.2,215.6M691.7,131.4L703.7,105.9M695.8,153.6L712.3,206.7M701.7,135.3L745.4,136.5M693.4,123.7L699.6,103.2M685.4,141.6L644.0,200.7M696.9,132.5L727.9,121.0M688.2,129.6L672.5,81.8M679.2,122.6L673.2,115.6M685.5,121.9L664.9,62.3M683.7,143.0L659.9,173.5M703.9,123.5L710.1,118.4M698.0,136.3L724.3,140.5M698.1,129.2L735.7,102.3M698.4,127.5L717.4,110.5M674.4,131.9L616.9,120.3M684.5,127.7L662.6,99.1M698.1,147.0L735.4,202.1M689.5,124.1L688.4,102.9M690.9,129.1L699.1,73.8M682.5,136.8L608.3,154.9M695.4,149.1L705.0,173.9M693.6,129.7L707.2,109.2M690.2,147.2L690.7,178.5M693.7,140.9L713.2,172.0M695.5,134.1L761.8,123.7M699.8,132.6L716.4,128.6M705.5,133.4L767.1,127.1M677.1,140.6L658.8,148.5M697.9,141.3L717.2,156.6M706.1,138.5L737.7,145.3M685.1,121.9L670.5,82.4M676.8,138.1L660.7,141.9M674.8,145.3L629.2,176.5M675.7,141.7L634.4,161.2M676.5,142.3L658.0,152.3M701.0,124.7L745.4,83.0M698.5,123.7L731.5,79.7M676.7,139.0L649.2,147.1M703.4,144.4L731.1,164.0M688.2,127.3L675.0,71.2M677.8,141.4L643.1,159.4M674.3,145.1L632.0,172.1M696.6,149.9L717.5,196.4M675.2,147.5L647.6,170.6M696.3,136.5L747.6,149.1M692.4,123.1L707.5,48.7M700.1,142.4L739.5,171.5M687.1,121.2L678.4,79.2M695.0,125.8L717.5,84.3M704.0,130.2L723.2,123.7M685.4,138.7L631.3,182.0M694.8,134.5L735.4,130.6M689.4,139.1L682.6,183.2M676.9,142.4L646.1,159.6M685.5,141.0L666.6,166.3M689.3,122.7L685.3,47.1M692.0,145.0L705.1,211.5M693.8,150.8L696.9,163.4M694.2,124.4L714.1,73.7M672.2,127.7L656.5,121.2M679.8,148.5L650.1,187.8M693.5,127.1L711.7,85.8M673.6,129.9L662.4,126.4M685.0,141.5L640.1,199.5M682.4,142.5L662.8,161.8M696.0,149.2L697.8,153.4M688.3,143.6L682.7,171.9M676.1,136.8L639.5,141.5M679.9,119.3L665.1,96.2M700.4,121.5L704.6,116.0M695.1,131.6L753.7,92.2M692.1,131.3L722.2,77.6M704.3,136.0L778.7,141.4M690.0,141.2L690.0,162.2M691.0,144.4L697.8,210.8M699.5,148.5L739.1,205.0M696.7,146.8L731.7,208.5M693.5,117.2L703.3,68.0M691.7,128.1L709.1,56.6M684.5,120.3L669.5,80.4M678.2,139.8L612.3,166.6M689.4,141.1L686.7,171.6M678.7,135.5L666.0,136.0M697.3,144.3L724.2,178.7M686.1,134.0L610.1,114.7M696.9,124.2L719.0,89.7" stroke="#e0e0e0" stroke-width="0.5" stroke-opacity="0.07" fill="none"/>
<g fill="#141414" opacity="0.65" filter="url(#blur05)"><ellipse cx="614.4" cy="66.4" rx="1.4" ry="0.8"/><ellipse cx="569.7" cy="91.3" rx="1.2" ry="1.4"/><ellipse cx="608.6" cy="139.6" rx="1.1" ry="1.1"/><ellipse cx="681.8" cy="16.4" rx="1.2" ry="1.2"/><ellipse cx="609.7" cy="124.0" rx="1.0" ry="1.1"/><ellipse cx="633.8" cy="112.2" rx="0.9" ry="1.1"/><ellipse cx="620.5" cy="84.0" rx="1.3" ry="1.0"/><ellipse cx="672.8" cy="64.5" rx="1.1" ry="1.0"/><ellipse cx="608.7" cy="53.2" rx="1.0" ry="1.2"/><ellipse cx="571.2" cy="105.9" rx="1.3" ry="1.1"/><ellipse cx="572.4" cy="51.1" rx="0.8" ry="0.9"/><ellipse cx="645.6" cy="93.5" rx="1.2" ry="1.2"/><ellipse cx="653.8" cy="39.6" rx="1.2" ry="1.1"/><ellipse cx="664.4" cy="25.2" rx="0.9" ry="0.8"/><ellipse cx="650.6" cy="60.0" rx="1.3" ry="1.3"/><ellipse cx="638.5" cy="45.5" rx="1.0" ry="1.1"/><ellipse cx="607.1" cy="68.0" rx="1.2" ry="1.4"/><ellipse cx="573.0" cy="85.8" rx="0.8" ry="0.9"/><ellipse cx="684.5" cy="70.0" rx="0.8" ry="1.0"/><ellipse cx="692.5" cy="73.8" rx="1.0" ry="0.9"/><ellipse cx="649.1" cy="39.6" rx="0.9" ry="0.8"/><ellipse cx="566.6" cy="100.9" rx="0.9" ry="1.4"/><ellipse cx="577.4" cy="125.0" rx="0.9" ry="0.8"/><ellipse cx="658.8" cy="43.5" rx="1.2" ry="0.9"/><ellipse cx="572.5" cy="112.6" rx="1.2" ry="1.3"/><ellipse cx="660.1" cy="23.0" rx="1.2" ry="1.2"/><ellipse cx="625.4" cy="133.2" rx="1.0" ry="1.4"/><ellipse cx="658.5" cy="13.5" rx="0.8" ry="1.2"/><ellipse cx="671.4" cy="22.4" rx="1.0" ry="1.2"/><ellipse cx="587.4" cy="123.9" rx="1.1" ry="0.8"/><ellipse cx="613.4" cy="86.7" rx="1.1" ry="1.2"/><ellipse cx="584.7" cy="115.7" rx="1.0" ry="1.2"/></g>
<ellipse cx="690.0" cy="135.0" rx="7.4" ry="5.2" fill="#fff" opacity="0.5" filter="url(#blur3)"/>
<ellipse cx="690.0" cy="135.0" rx="4.6" ry="2.9" fill="#fff" filter="url(#blur05)"/>
<text x="695.0" y="25.7" text-anchor="end" class="tm">32 min</text>
</g>
<g clip-path="url(#clip12)">
<rect x="132" y="160" width="135" height="134" fill="#282828"/>
<rect x="132" y="160" width="135" height="134" filter="url(#grain)" opacity="0.05"/>
<rect x="132" y="160" width="135" height="134" filter="url(#grainD)" opacity="0.22"/>
<rect x="132" y="160" width="135" height="134" fill="url(#rg12)"/>
<rect x="132" y="160" width="135" height="134" fill="url(#gc13)"/>
<rect x="132" y="160" width="135" height="134" fill="url(#rg15)"/>
<rect x="132" y="160" width="135" height="134" fill="url(#gc16)"/>
<g mask="url(#m12)"><rect x="132" y="160" width="135" height="134" filter="url(#grain)" opacity="0.28"/></g>
<path d="M184.5,262.4L177.4,254.9M187.3,260.2L191.4,242.1M185.1,263.8L176.7,260.0M190.6,263.6L204.3,261.3M183.8,268.7L178.2,278.6M187.4,262.3L194.3,250.0M184.0,265.4L166.7,273.7M184.4,260.0L179.8,249.3M186.7,263.3L190.0,254.6M186.0,267.7L185.2,277.3M186.8,263.2L195.0,244.4M188.6,260.4L196.4,246.7M182.3,262.3L177.1,259.8M188.0,259.9L192.6,247.5M184.4,267.0L182.5,269.8M187.5,260.4L188.9,255.8M189.5,262.8L194.9,260.4M185.5,262.6L180.2,251.9M186.2,268.5L185.7,283.4M182.1,265.4L179.8,266.0M186.8,260.9L187.6,254.9M188.8,262.4L203.6,251.2M184.5,264.6L170.4,266.7M187.7,267.9L189.3,272.2M184.6,266.3L176.1,276.2M185.1,264.2L178.5,263.4M187.8,264.3L198.4,264.1M185.2,263.1L173.0,249.6M183.7,262.5L176.8,257.7M191.3,265.0L192.0,265.0M188.5,261.8L195.8,253.7M186.1,267.1L184.9,283.9M190.4,262.9L204.7,257.9M187.4,264.0L195.9,262.1M186.7,265.6L188.9,272.4M190.6,265.7L201.0,269.2M181.7,265.5L164.3,270.2M188.7,265.3L201.3,270.7M187.8,265.7L203.1,280.1M181.8,262.4L170.6,257.6M184.9,261.8L180.3,253.4M189.0,268.6L198.7,283.8M186.7,266.3L187.3,270.0M183.5,268.1L173.2,281.9M188.5,260.7L189.4,259.2M185.0,259.4L182.0,247.7M190.2,265.7L193.6,267.0M188.4,263.5L202.8,257.7M185.1,263.5L170.1,253.8M185.6,265.7L181.9,273.2M184.3,264.5L178.1,265.3M187.0,265.1L197.4,278.2M186.1,263.2L184.5,255.7M190.6,262.2L194.6,260.3M187.4,263.1L200.8,248.2M181.8,265.9L179.8,266.5M187.9,261.9L195.5,250.2M184.7,266.8L175.3,281.6M185.0,262.9L180.9,258.7M189.4,265.4L203.6,270.7M187.6,266.0L199.4,281.2M184.5,265.4L179.5,268.5M187.2,262.9L192.4,254.7M181.6,264.6L175.3,264.9M187.2,265.1L203.9,279.7M187.8,263.1L200.2,253.5M184.2,264.6L176.0,265.8M187.8,269.1L189.9,275.7M187.7,264.3L208.7,264.0M186.0,265.5L180.9,285.5M185.6,259.3L184.7,253.8M188.7,264.5L206.4,266.3M189.1,267.7L189.6,268.3M183.5,263.8L177.8,262.9M189.2,262.5L194.1,259.5M189.0,267.5L191.8,270.8M186.0,263.0L184.2,255.8M188.9,265.9L200.4,272.9M185.8,267.8L185.0,273.2M185.4,261.0L181.0,244.7M187.5,268.1L188.2,270.3M185.3,265.0L170.7,274.4M188.0,260.2L190.5,253.7M187.0,263.5L195.7,253.5M190.2,261.9L198.1,256.8M185.8,268.7L185.4,272.8M184.6,266.2L180.8,270.3M183.7,262.5L182.0,261.4M184.9,264.8L172.4,269.2M185.3,259.9L181.8,244.4M185.2,266.6L178.4,280.9M186.3,259.7L186.4,258.1M189.3,263.4L200.1,260.2M185.2,264.1L171.4,261.4M188.0,263.9L195.4,262.4M189.8,266.9L194.1,270.2M190.1,265.0L193.1,265.6M187.5,267.6L188.1,269.4M182.9,262.5L173.1,257.4M189.4,266.7L203.4,277.2M189.2,265.1L193.4,266.4M184.8,264.3L176.0,264.3M183.5,266.2L179.9,268.6M188.5,261.7L191.3,258.3M186.2,259.9L186.1,256.1M188.8,263.3L197.7,259.6M187.7,262.1L194.3,251.7M188.5,263.4L204.6,257.2M186.5,267.1L187.0,275.6M191.0,263.7L206.3,261.9M186.8,263.2L194.6,245.1M181.5,263.8L163.4,261.8M186.3,267.9L186.4,277.3M185.4,265.3L176.4,275.6M185.3,264.8L173.0,270.2M189.0,267.5L201.2,282.1M190.3,262.6L201.9,257.8M187.2,263.5L202.5,249.9M183.9,261.4L180.0,256.5M185.6,269.0L184.1,279.4M184.0,262.1L179.2,257.5M184.3,265.2L165.4,273.6M185.8,265.7L180.4,280.5M183.7,262.6L167.2,251.5M185.9,267.5L184.7,278.0M187.2,265.5L190.7,270.3M185.7,266.4L182.9,276.5M186.4,267.5L186.6,271.0M188.1,261.5L195.1,250.3M184.0,261.1L181.1,257.1M182.9,265.2L171.4,268.0M184.3,264.7L175.6,266.4M186.8,266.8L188.9,278.7M184.2,263.0L181.7,261.6M188.4,261.8L192.5,257.0M181.3,264.6L175.9,264.9M185.8,265.9L180.8,283.0M188.9,265.4L205.8,273.0M188.9,265.4L197.7,269.0M186.1,262.4L185.6,257.2M187.9,263.9L204.6,259.5M184.3,267.5L180.2,274.3M183.0,261.4L170.7,250.3M182.3,263.8L167.5,262.2M186.6,260.1L187.2,250.3M185.9,262.8L180.6,242.8M189.2,261.3L189.9,260.5M182.1,261.8L173.9,256.9M182.5,262.5L174.7,258.7M188.1,262.5L197.8,252.5M182.5,265.5L173.2,268.3M185.4,267.5L183.0,276.3M183.1,267.1L178.0,271.7M188.0,262.0L194.8,252.6M186.9,265.8L190.6,274.2M185.1,263.7L172.1,257.0M190.2,262.2L196.1,258.9M187.3,262.7L198.4,244.7M185.3,264.8L166.5,274.2M189.2,265.2L201.3,268.9" stroke="#e0e0e0" stroke-width="0.5" stroke-opacity="0.08" fill="none"/>
<path d="M228.2,262.7L249.2,251.2M228.6,265.0L245.7,264.8M222.6,261.7L216.8,248.3M218.0,261.0L209.8,255.4M223.1,263.1L214.2,245.4M220.6,268.5L210.9,278.1M217.5,261.7L195.7,250.8M218.8,265.4L204.5,266.6M228.7,264.9L240.9,264.6M225.4,261.9L228.9,253.8M228.5,264.4L253.9,260.9M228.3,268.6L248.7,285.5M226.9,258.8L238.9,233.6M221.2,266.5L213.6,270.6M221.4,264.8L202.7,263.4M226.1,269.7L234.2,287.6M220.8,269.2L203.0,292.8M230.0,266.6L242.2,269.9M223.5,266.4L214.8,289.8M222.3,269.7L213.7,293.9M221.8,261.1L217.6,253.8M218.9,263.2L210.0,260.1M219.1,264.0L189.8,258.1M221.9,266.3L214.8,270.7M224.1,262.9L224.6,254.6M227.1,270.7L234.5,284.2M222.6,263.8L201.5,245.7M227.4,265.3L252.6,267.2M223.5,262.5L220.3,248.2M223.3,271.9L222.9,275.2M220.3,262.9L209.1,256.6M218.8,269.5L217.2,270.9M220.4,262.9L194.6,248.2M222.7,263.8L213.5,255.2M227.1,263.6L252.1,251.9M226.7,263.0L248.1,247.2M220.4,262.3L196.9,244.6M227.6,263.8L237.5,260.6M223.3,261.7L221.3,251.7M228.4,260.6L238.8,250.3M224.2,268.6L224.5,277.3M225.3,268.0L237.3,296.5M219.6,263.2L214.1,261.0M222.6,266.2L210.0,277.2M226.6,267.5L245.6,286.1M224.1,268.2L224.4,277.8M224.4,270.5L224.7,273.4M220.9,269.8L217.6,274.9M229.4,268.6L236.5,273.2M228.5,269.7L237.7,279.2M225.2,261.6L228.0,253.8M222.8,257.9L220.9,247.4M225.2,269.4L232.8,297.5M224.3,267.3L226.8,284.7M222.1,258.4L220.0,250.9M221.5,263.4L209.0,255.8M218.8,260.8L213.6,256.6M227.4,268.3L239.5,280.1M223.5,268.8L220.3,293.5M222.2,262.2L211.3,245.7M222.0,266.6L216.4,271.3M227.2,260.6L233.7,251.9M226.8,267.3L241.8,279.5M222.1,265.0L208.3,265.0M223.2,267.1L218.8,277.7M223.2,261.2L220.8,250.1M229.7,261.3L248.2,249.4M226.0,262.6L231.2,256.5M229.4,266.0L249.7,269.8M220.8,269.4L212.8,280.1M221.9,258.8L219.5,251.4M222.4,267.1L209.2,284.9M228.4,268.9L248.4,286.6M223.6,263.3L222.0,256.6M225.7,267.8L230.8,276.0M221.5,267.3L217.7,270.8M219.8,260.0L216.0,255.5M221.3,263.7L199.4,253.4M220.7,266.4L199.9,275.5M230.2,265.0L254.4,265.2M222.5,271.5L222.0,273.5M221.7,263.1L217.1,259.5M226.1,266.8L246.4,283.8M225.7,264.0L248.2,250.6M222.0,259.4L217.8,247.8M225.0,263.2L231.2,251.6M230.7,262.7L242.1,258.7M221.7,259.0L214.0,239.0M222.7,263.7L210.2,250.6M222.5,260.7L217.8,246.7M229.5,262.4L233.9,260.2M230.1,266.7L249.8,272.3M223.5,272.3L222.4,287.5M222.1,262.7L209.4,247.9M227.7,266.4L240.1,271.3M224.7,267.2L228.8,280.3M223.2,262.2L217.1,240.0M224.2,269.2L225.1,286.6M227.0,263.7L239.8,258.3M227.7,261.8L232.5,257.4M221.6,269.1L209.0,290.9M224.4,259.5L224.8,252.9M219.0,261.5L207.6,253.3M225.6,262.2L229.2,255.7M222.8,266.4L215.6,275.1M222.9,270.6L221.5,277.7M220.7,266.1L214.0,268.4M221.5,265.5L206.9,268.4M230.7,268.3L231.0,268.4M224.0,259.2L224.0,255.2M226.1,264.7L246.8,262.1M221.4,265.2L204.6,266.4M217.2,263.1L216.6,262.9M219.6,259.4L208.8,245.5M222.3,262.6L215.7,253.2M228.0,269.7L229.3,271.3M225.4,262.8L232.3,251.8M219.4,259.6L204.1,241.5M227.2,270.7L238.3,290.3M223.9,262.4L223.2,248.5M225.7,261.7L231.4,250.5M217.8,263.0L207.2,259.4M224.3,269.9L224.6,273.6M220.0,260.9L203.2,243.3M227.7,262.5L251.7,246.2M220.7,265.0L212.2,265.0M219.1,262.3L215.5,260.3M227.8,271.3L234.2,281.9M227.5,267.2L231.3,269.6M224.6,266.4L233.9,290.5M227.4,259.8L240.8,238.9M219.1,267.5L210.4,271.9M220.5,264.7L205.0,263.2M218.0,267.4L200.1,274.7M226.7,263.1L233.9,258.2M220.6,266.3L202.5,273.0M225.2,268.2L227.3,274.3M217.3,266.7L190.8,273.4M228.8,259.6L246.7,239.3M222.6,263.7L202.3,244.6M222.5,262.1L213.2,243.3M220.0,263.1L193.6,250.4M221.9,262.2L214.5,252.4M226.0,263.3L230.2,259.5M223.1,263.2L215.4,247.2M221.3,260.8L214.5,250.0M219.8,267.5L204.9,276.1M221.9,266.6L215.5,271.5M225.7,263.6L241.4,250.6M225.3,263.4L233.4,254.0M219.6,264.1L209.9,262.2M219.3,263.4L211.1,260.4M227.8,268.3L240.4,279.1M225.7,265.9L240.4,274.0M219.5,266.8L195.0,276.6M223.5,262.9L217.8,237.4M226.1,264.9L251.3,263.4M225.2,262.8L232.8,249.0M230.0,263.5L246.3,259.3M225.2,266.4L242.8,286.9" stroke="#e0e0e0" stroke-width="0.5" stroke-opacity="0.08" fill="none"/>
<g fill="#141414" opacity="0.65" filter="url(#blur05)"><ellipse cx="165.0" cy="210.4" rx="0.8" ry="1.2"/><ellipse cx="161.9" cy="201.0" rx="1.3" ry="1.1"/><ellipse cx="250.4" cy="242.8" rx="1.4" ry="1.2"/><ellipse cx="254.2" cy="275.2" rx="0.9" ry="1.3"/><ellipse cx="150.1" cy="210.5" rx="1.3" ry="1.5"/><ellipse cx="228.6" cy="167.7" rx="1.2" ry="0.9"/><ellipse cx="148.8" cy="282.3" rx="1.3" ry="1.0"/><ellipse cx="159.3" cy="220.1" rx="1.4" ry="1.2"/><ellipse cx="148.9" cy="164.7" rx="0.9" ry="1.4"/><ellipse cx="158.3" cy="234.1" rx="1.0" ry="1.3"/><ellipse cx="183.9" cy="180.8" rx="1.4" ry="1.2"/><ellipse cx="258.3" cy="163.8" rx="1.0" ry="0.9"/><ellipse cx="199.7" cy="275.5" rx="1.4" ry="0.8"/><ellipse cx="157.9" cy="268.4" rx="1.3" ry="1.1"/><ellipse cx="196.3" cy="182.6" rx="1.4" ry="1.1"/></g>
<ellipse cx="186.3" cy="264.3" rx="4.4" ry="3.6" fill="#fff" opacity="0.36" filter="url(#blur3)"/>
<ellipse cx="186.3" cy="264.3" rx="2.0" ry="1.6" fill="#fff" opacity="0.95" filter="url(#blur12)"/>
<ellipse cx="224.0" cy="265.0" rx="6.0" ry="5.6" fill="#fff" opacity="0.36" filter="url(#blur3)"/>
<ellipse cx="224.0" cy="265.0" rx="2.7" ry="2.5" fill="#fff" opacity="0.95" filter="url(#blur12)"/>
<rect x="135.3" y="287.2" width="82.7" height="3.6" fill="#fff"/>
<text x="261.4" y="175.7" text-anchor="end" class="tm">50 min</text>
</g>
<g clip-path="url(#clip18)">
<rect x="276" y="160" width="135" height="134" fill="#2b2b2b"/>
<rect x="276" y="160" width="135" height="134" filter="url(#grain)" opacity="0.05"/>
<rect x="276" y="160" width="135" height="134" filter="url(#grainD)" opacity="0.22"/>
<rect x="276" y="160" width="135" height="134" fill="url(#rg18)"/>
<rect x="276" y="160" width="135" height="134" fill="url(#gc19)"/>
<rect x="276" y="160" width="135" height="134" fill="url(#rg21)"/>
<rect x="276" y="160" width="135" height="134" fill="url(#gc22)"/>
<g mask="url(#m18)"><rect x="276" y="160" width="135" height="134" filter="url(#grain)" opacity="0.28"/></g>
<path d="M331.2,262.8L347.4,246.2M326.4,270.6L323.1,276.6M327.6,262.9L322.1,259.5M326.5,268.3L316.2,280.5M328.6,265.3L316.1,275.9M328.3,263.5L314.6,256.0M328.0,264.8L295.0,273.4M331.8,266.9L346.2,285.7M329.3,267.5L326.6,286.2M323.0,261.1L309.0,254.7M334.9,264.1L338.6,263.9M330.6,258.0L334.1,231.8M327.2,261.5L312.4,245.0M328.4,271.2L323.8,294.2M333.0,263.0L355.1,254.0M330.2,259.6L332.2,235.5M326.5,260.5L318.0,250.9M326.8,266.3L321.9,269.6M327.8,268.4L313.8,296.6M327.8,266.5L319.9,275.2M328.9,265.6L323.0,273.8M332.8,261.2L344.1,249.3M327.4,263.2L314.9,257.4M333.0,265.7L344.8,270.9M328.7,257.0L326.4,241.0M327.0,268.7L311.4,293.1M334.3,266.8L341.1,270.5M336.2,263.8L347.8,262.9M328.0,265.2L300.4,278.5M326.5,264.6L296.4,267.6M329.7,266.9L329.4,272.8M329.5,267.2L326.6,292.1M325.5,267.4L318.9,272.3M331.6,262.2L347.1,244.4M329.3,259.0L326.2,229.1M336.0,267.7L357.0,279.1M328.3,266.6L323.5,274.1M324.4,263.0L297.8,256.7M333.0,262.6L342.1,257.8M329.8,260.2L329.7,237.9M329.0,262.6L322.3,248.6M325.1,267.1L322.0,269.0M327.1,268.9L318.7,283.2M329.7,265.9L328.9,285.3M336.7,260.8L351.1,253.5M335.5,266.4L353.6,273.0M328.6,266.5L324.8,273.5M331.1,266.0L348.4,287.5M331.7,259.8L337.6,246.0M325.0,261.3L309.7,251.8M324.8,260.6L315.9,254.0M329.5,270.6L328.4,292.4M330.8,258.0L332.5,247.9M333.1,263.8L350.4,261.4M327.4,264.0L295.5,259.2M335.4,264.6L351.2,265.5M331.0,256.7L332.5,246.3M330.1,266.4L333.8,293.5M331.7,264.6L341.3,266.3M327.1,264.3L306.1,264.0M332.1,263.4L346.8,257.6M333.0,270.9L342.5,290.2M333.2,269.8L334.3,271.6M330.0,269.0L331.5,300.2M325.5,259.4L318.2,251.0M322.8,266.1L313.3,268.5M331.3,265.5L352.2,282.3M325.6,258.8L318.0,249.0M333.6,265.8L352.1,273.1M334.6,261.6L360.2,247.4M330.3,267.5L332.2,279.1M327.2,265.4L316.6,270.1M330.0,260.9L331.3,238.2M334.9,264.1L343.8,263.8M333.7,270.1L347.8,291.4M329.1,271.0L326.6,293.4M328.9,268.8L326.3,281.2M334.3,260.6L339.4,256.4M325.6,261.3L312.8,252.4M335.0,259.6L340.0,255.0M325.4,269.6L310.6,287.5M333.0,271.4L343.2,293.9M329.1,266.5L327.3,272.4M337.0,263.1L337.8,263.0M331.1,266.1L346.6,287.7M330.8,266.2L343.2,288.1M326.6,269.4L311.6,293.1M331.1,263.1L356.2,240.1M330.4,270.1L332.7,294.6M332.7,265.0L351.4,269.5M328.3,265.0L320.0,268.9M336.8,263.9L346.6,263.3M331.6,266.0L345.6,279.2M324.5,266.8L318.2,269.9M332.6,268.1L347.1,287.5M333.3,267.3L343.4,275.9M332.3,262.9L345.3,255.6M335.8,263.1L362.2,257.6M329.3,267.5L327.9,277.0M334.1,266.3L338.0,268.1M326.6,266.4L309.9,277.2M335.4,264.7L357.2,266.1M324.2,262.7L307.2,257.9M335.8,263.6L362.4,260.7M326.4,266.8L316.2,274.3M333.7,263.6L348.4,261.1M323.2,268.5L319.8,270.7M337.1,264.5L355.0,265.1M329.7,268.2L329.1,289.6M329.9,266.6L330.6,277.8M333.8,258.3L346.5,239.1M333.2,265.4L356.1,272.8M327.7,261.5L315.5,245.6M335.9,263.2L337.5,262.9M333.0,260.1L343.4,246.5M335.3,264.1L344.3,263.8M329.5,258.3L329.0,245.7M325.6,267.6L311.9,278.5M327.4,259.4L322.3,249.0M324.6,262.9L316.1,260.5M329.4,268.8L326.6,297.9M329.0,259.8L325.8,241.9M331.1,271.5L331.9,276.0M325.0,263.4L307.4,260.2M330.8,261.9L335.5,250.8M332.2,259.3L339.0,245.4M333.1,258.1L345.4,234.8M336.3,266.1L347.8,269.3M330.8,262.0L334.5,254.0M329.8,268.1L329.7,275.0M331.2,260.2L337.3,242.8M336.4,268.4L346.1,274.3M328.3,260.0L322.8,244.9M330.5,261.9L338.6,236.1M327.8,259.9L322.0,247.7M330.1,268.0L331.2,282.6M327.7,266.2L323.7,269.9M327.4,263.2L321.3,260.2M329.1,260.8L326.7,249.0M329.9,266.4L331.4,295.9M328.0,262.2L308.6,239.9M325.0,266.8L302.8,278.4M326.8,267.4L323.5,270.8M327.5,266.8L310.9,285.2M324.3,267.9L307.7,278.7M326.7,268.4L318.5,279.4M336.6,260.8L341.6,258.3M328.4,258.7L325.4,246.4M326.8,269.8L325.1,272.9M326.4,267.5L313.2,280.0M331.2,263.3L353.8,247.2M326.1,261.9L312.2,252.7M332.2,260.5L340.3,247.7M333.4,261.4L345.5,251.3M324.1,263.9L298.5,262.0M329.7,262.5L328.6,245.0M327.1,258.5L319.7,242.9M330.2,261.4L331.2,253.2M331.7,265.3L357.4,278.8M334.1,267.0L354.7,279.8" stroke="#e0e0e0" stroke-width="0.5" stroke-opacity="0.08" fill="none"/>
<path d="M373.0,269.2L393.1,276.4M361.6,267.8L358.1,268.2M360.6,271.0L346.1,279.3M368.4,264.9L380.7,237.3M366.6,268.6L356.0,286.7M370.6,267.0L383.0,266.1M364.7,273.6L361.6,281.1M363.5,265.8L346.3,259.5M374.0,269.4L383.1,272.4M368.4,264.2L377.8,236.6M368.9,271.9L370.2,276.1M364.2,270.5L352.6,282.2M361.7,263.9L351.6,258.0M368.9,272.0L377.9,299.6M372.0,268.7L383.3,272.5M364.4,269.1L347.3,280.2M366.9,270.5L362.9,297.4M366.1,262.1L359.9,237.4M363.2,268.4L334.3,276.9M370.5,264.2L374.2,260.6M363.0,261.9L361.5,260.1M369.8,268.4L389.8,278.1M373.2,264.1L388.5,256.0M361.6,267.3L340.3,267.5M365.5,273.7L363.5,280.5M369.1,269.5L388.1,294.2M372.6,271.0L375.9,273.4M372.8,265.5L386.1,261.2M367.1,273.0L365.8,300.9M370.7,272.1L372.7,275.0M370.7,268.1L398.0,275.4M367.8,270.7L370.1,291.5M360.7,264.5L356.1,262.7M366.3,269.4L353.0,295.6M368.6,263.4L378.3,233.1M372.8,268.3L385.7,271.0M367.8,269.3L371.3,290.3M363.3,268.1L339.5,273.5M364.5,261.1L362.6,257.2M373.0,272.6L392.0,290.9M370.5,265.9L388.6,258.7M364.7,271.0L350.5,291.1M371.5,265.2L376.9,262.7M370.6,263.5L383.7,248.4M370.2,268.9L377.4,273.4M369.7,265.3L392.4,247.3M372.1,264.8L375.2,263.2M374.7,265.7L384.7,263.6M365.4,264.2L362.3,259.5M361.5,269.1L353.3,271.8M368.9,270.3L380.5,294.5M369.4,268.1L389.0,277.3M362.4,265.5L338.6,257.5M362.8,268.3L358.9,269.3M369.4,268.6L388.9,282.3M364.0,265.4L351.6,258.8M366.0,265.0L360.9,256.5M373.8,264.8L383.5,261.0M369.1,265.4L382.5,251.8M369.3,268.5L394.8,285.5M365.1,267.3L344.3,267.8M362.6,268.2L355.2,269.7M364.6,267.1L349.1,266.4M365.5,268.5L356.2,274.9M367.7,271.9L369.5,299.9M373.2,262.5L373.8,262.0M362.3,267.6L337.1,269.4M365.1,261.4L362.0,253.9M368.4,268.6L376.1,279.8M364.8,269.3L349.7,281.3M371.4,263.9L375.3,260.7M368.1,273.6L369.9,291.9M366.6,264.2L365.1,257.9M365.9,266.1L338.2,246.2M362.5,262.7L347.1,248.5M365.0,270.9L350.5,293.1M373.9,263.7L374.5,263.3M365.6,268.3L350.9,277.4M367.6,273.0L368.3,296.0M368.8,269.2L377.7,281.6M368.6,270.6L371.9,280.5M373.8,266.2L403.3,261.7M361.0,268.0L345.6,270.0M372.0,264.2L391.9,251.2M369.6,273.7L375.5,291.6M368.8,261.3L369.8,257.0M363.0,273.4L360.1,277.3M366.3,265.1L353.8,241.4M370.8,260.9L383.8,236.7M367.2,260.6L366.4,235.6M361.7,263.6L350.3,256.3M368.1,263.9L374.4,235.3M374.6,265.4L389.7,261.6M372.2,271.5L393.9,290.8M367.4,270.2L367.0,299.0M368.4,270.1L374.1,287.0M361.6,267.5L333.7,268.8M365.8,260.9L362.7,248.8M369.4,260.0L374.8,240.9M368.4,265.3L376.3,249.9M365.3,264.2L349.2,241.3M362.0,263.5L341.2,249.4M369.1,267.2L389.2,267.8M370.6,269.9L391.2,287.1M364.5,265.0L350.9,254.4M368.9,273.9L371.5,284.7M365.9,265.8L355.6,256.2M366.8,271.5L363.7,294.8M366.2,265.2L351.0,241.0M364.7,261.1L363.7,259.0M370.4,274.1L373.7,281.4M362.8,272.6L358.2,278.0M364.3,264.6L341.7,245.9M362.7,267.2L332.3,267.3M374.1,266.7L380.6,266.2M368.2,268.5L379.4,286.7M369.4,271.1L383.1,298.3M368.8,263.7L372.9,253.3M373.0,271.3L386.4,281.2M360.1,266.6L348.9,265.6M369.0,265.9L388.5,250.6M362.0,261.9L352.8,252.8M363.8,271.4L350.1,287.6M363.3,271.3L351.2,283.2M370.6,265.1L385.8,255.1M374.1,266.2L376.7,265.8M365.6,263.2L357.8,245.5M367.4,261.1L367.6,233.9M367.4,263.6L367.4,258.4M372.0,272.6L390.3,293.8M370.6,271.3L382.5,286.6M373.4,269.0L385.6,272.7M363.4,262.3L357.4,254.9M366.3,271.2L361.4,289.8M373.9,266.3L393.5,263.6M364.0,260.4L359.1,250.5M366.6,264.0L360.5,240.5M370.9,272.9L380.2,287.8M368.1,264.9L372.2,250.1M364.8,266.9L334.7,263.9M367.1,263.7L366.5,254.6M371.1,268.5L382.8,272.6M370.1,266.6L402.0,259.9M366.4,269.8L354.7,299.6M366.4,269.2L358.6,285.6M367.1,271.2L366.2,286.2M370.2,266.6L382.4,263.7M373.1,263.5L384.8,256.0M365.1,264.5L347.8,244.4M370.0,270.9L384.4,291.3M361.6,264.9L342.2,257.5M366.2,274.4L364.5,285.1M362.0,266.2L351.6,264.3M367.3,269.0L365.6,297.0M369.1,263.9L378.5,245.9M370.3,266.1L381.7,261.5M373.1,269.9L388.7,277.2M364.5,261.3L358.8,249.6M371.7,270.8L380.1,277.9M373.2,266.0L392.8,261.9" stroke="#e0e0e0" stroke-width="0.5" stroke-opacity="0.08" fill="none"/>
<g fill="#141414" opacity="0.65" filter="url(#blur05)"><ellipse cx="379.5" cy="213.3" rx="1.5" ry="1.3"/><ellipse cx="322.8" cy="213.0" rx="1.4" ry="1.0"/><ellipse cx="302.3" cy="275.3" rx="1.2" ry="1.2"/><ellipse cx="295.5" cy="206.0" rx="0.8" ry="1.1"/><ellipse cx="365.5" cy="237.1" rx="1.1" ry="1.2"/><ellipse cx="297.8" cy="249.3" rx="1.3" ry="1.2"/><ellipse cx="395.7" cy="278.8" rx="1.3" ry="1.4"/><ellipse cx="295.2" cy="253.5" rx="1.3" ry="1.2"/><ellipse cx="314.0" cy="170.8" rx="1.2" ry="1.4"/><ellipse cx="313.8" cy="189.7" rx="1.0" ry="0.9"/><ellipse cx="383.1" cy="208.8" rx="1.3" ry="0.9"/><ellipse cx="387.9" cy="204.3" rx="0.8" ry="1.2"/><ellipse cx="296.2" cy="197.8" rx="0.8" ry="1.1"/><ellipse cx="283.2" cy="269.6" rx="0.9" ry="1.0"/><ellipse cx="360.5" cy="206.2" rx="1.0" ry="1.2"/><ellipse cx="305.4" cy="271.1" rx="1.4" ry="1.2"/><ellipse cx="282.0" cy="263.2" rx="0.8" ry="1.2"/><ellipse cx="333.5" cy="170.2" rx="1.2" ry="1.3"/><ellipse cx="354.6" cy="214.0" rx="1.2" ry="1.2"/><ellipse cx="307.6" cy="274.8" rx="1.5" ry="1.4"/><ellipse cx="403.9" cy="204.8" rx="1.5" ry="0.8"/><ellipse cx="340.6" cy="179.4" rx="1.1" ry="1.3"/><ellipse cx="370.8" cy="221.1" rx="1.0" ry="0.9"/><ellipse cx="330.8" cy="198.7" rx="0.9" ry="1.3"/><ellipse cx="345.6" cy="219.0" rx="0.9" ry="1.3"/><ellipse cx="303.8" cy="196.5" rx="1.2" ry="1.3"/><ellipse cx="405.5" cy="259.2" rx="1.5" ry="1.4"/><ellipse cx="286.2" cy="188.7" rx="0.8" ry="1.4"/></g>
<ellipse cx="329.8" cy="264.3" rx="6.0" ry="4.8" fill="#fff" opacity="0.36" filter="url(#blur3)"/>
<ellipse cx="329.8" cy="264.3" rx="2.7" ry="2.2" fill="#fff" opacity="0.95" filter="url(#blur12)"/>
<ellipse cx="367.4" cy="267.2" rx="6.0" ry="5.2" fill="#fff" opacity="0.36" filter="url(#blur3)"/>
<ellipse cx="367.4" cy="267.2" rx="2.7" ry="2.3" fill="#fff" opacity="0.95" filter="url(#blur12)"/>
<text x="405.0" y="175.7" text-anchor="end" class="tm">60 min</text>
</g>
<g clip-path="url(#clip24)">
<rect x="420" y="160" width="134" height="134" fill="#2e2e2e"/>
<rect x="420" y="160" width="134" height="134" filter="url(#grain)" opacity="0.05"/>
<rect x="420" y="160" width="134" height="134" filter="url(#grainD)" opacity="0.22"/>
<rect x="420" y="160" width="134" height="134" fill="url(#rg24)"/>
<rect x="420" y="160" width="134" height="134" fill="url(#gc25)"/>
<rect x="420" y="160" width="134" height="134" fill="url(#rg27)"/>
<rect x="420" y="160" width="134" height="134" fill="url(#gc28)"/>
<g mask="url(#m24)"><rect x="420" y="160" width="134" height="134" filter="url(#grain)" opacity="0.28"/></g>
<path d="M472.5,273.3L468.1,248.4M469.3,281.6L464.5,287.8M475.1,276.7L491.5,275.8M476.7,283.9L482.2,294.7M473.9,274.5L480.9,254.9M478.7,281.2L483.8,285.3M465.1,278.3L433.5,284.0M475.2,269.6L479.7,253.8M477.0,280.9L481.5,285.6M469.6,276.6L457.7,276.0M479.7,277.7L510.5,281.8M477.6,275.2L510.7,263.3M472.3,269.5L470.8,256.0M474.1,275.3L480.1,265.9M474.1,281.1L479.2,303.5M480.3,277.2L508.2,278.8M465.4,278.6L463.3,279.1M469.2,275.9L462.4,274.5M469.5,273.2L446.9,250.7M470.9,274.2L463.3,265.1M475.1,275.4L490.4,265.1M470.5,275.1L462.4,269.9M467.2,278.5L446.7,284.2M472.5,274.7L467.0,254.9M472.3,271.8L471.4,266.5M467.7,280.7L448.7,294.5M473.5,283.3L475.0,306.2M465.2,278.2L460.1,279.1M470.3,274.8L464.4,270.6M477.6,276.4L489.0,275.5M474.6,270.8L481.4,242.8M473.0,274.4L472.6,266.9M475.1,276.5L507.0,271.7M480.9,279.3L488.7,281.7M474.7,284.9L478.8,306.4M470.8,274.1L448.6,247.7M477.1,282.6L478.4,284.4M478.4,280.9L504.7,300.9M474.2,279.5L486.4,308.6M465.9,276.3L461.1,275.9M474.5,275.7L502.3,252.6M477.5,270.8L488.8,255.6M467.2,276.7L444.6,276.4M473.7,274.8L476.5,266.2M468.8,275.5L455.8,271.7M475.0,276.9L505.5,278.4M475.5,272.5L489.7,246.5M475.4,279.0L494.3,297.2M465.4,280.5L462.1,282.1M470.8,276.1L454.0,271.1M472.2,269.2L468.7,241.3M476.2,279.1L489.5,289.0M473.6,270.9L474.1,263.4M474.9,276.6L506.0,272.3M478.9,279.8L484.1,282.4M469.1,273.9L452.5,262.1M467.9,280.2L449.5,292.3M479.4,273.1L500.8,260.7M478.8,273.3L503.3,258.4M480.6,278.3L503.0,282.6M470.4,278.1L439.8,292.3M479.3,274.5L494.4,268.8M473.0,281.0L472.8,295.1M470.9,281.1L467.8,287.3M481.3,275.8L502.4,273.3M473.8,268.2L475.8,241.5M473.2,273.3L473.4,259.4M470.2,278.5L465.1,281.7M476.1,274.2L501.9,251.9M474.1,268.9L477.4,243.7M473.8,274.4L480.2,252.1M475.9,271.4L481.6,260.2M467.4,283.1L455.8,296.0M476.4,282.1L486.7,298.5M468.7,275.7L435.6,267.6M480.4,272.4L499.4,261.0M476.3,278.8L486.2,285.1M476.1,274.8L480.7,271.7M472.5,273.9L464.5,237.5M467.0,279.3L444.8,288.4M473.0,273.3L472.3,244.1M472.8,283.3L472.7,286.4M475.2,285.0L477.4,293.2M469.2,271.9L456.0,255.2M470.0,274.6L447.9,259.0M474.8,277.5L483.1,281.0M471.5,278.7L464.6,286.9M466.6,277.1L433.5,278.4M472.7,279.7L468.2,309.7M476.8,279.5L488.0,287.6M470.6,270.5L464.6,255.5M476.5,279.1L504.9,298.4M476.8,270.3L477.9,268.4M474.2,284.0L478.4,312.4M472.2,275.2L464.7,261.4M474.1,279.4L486.9,311.7M469.7,271.5L458.3,253.7M474.1,279.0L478.7,288.8M479.3,276.1L493.9,274.5M471.1,275.9L458.8,270.1M475.7,277.0L508.8,280.1M479.7,275.2L492.9,272.1M475.4,279.5L494.9,302.6M471.4,278.7L456.2,295.7M473.1,280.5L473.5,310.9M470.7,279.0L448.9,299.3M474.6,280.9L478.5,291.5M469.8,280.6L453.8,298.6M477.4,272.2L480.1,269.3M474.1,275.1L481.5,262.9M468.5,278.7L461.6,281.5M472.5,274.3L470.3,265.4M469.8,277.2L459.0,278.6M471.0,277.6L461.5,281.4M467.8,283.1L457.9,294.9M470.0,275.7L462.8,273.1M472.8,269.0L472.1,250.2M475.5,276.2L508.2,268.4M476.3,275.6L497.0,268.0M474.6,279.6L490.4,308.7M480.2,280.9L488.0,285.4M470.9,277.3L442.0,284.6M470.1,277.7L455.1,282.3M471.8,274.6L462.6,259.5M476.1,276.5L497.0,274.4M478.4,277.2L502.6,278.8M479.9,277.9L496.5,280.4M468.0,275.6L457.4,273.1M470.9,275.1L449.8,258.7M475.4,270.3L486.0,240.1M478.1,270.5L485.9,260.8M475.6,282.2L479.7,291.3M475.7,274.9L482.3,270.2M475.7,277.4L495.2,281.9M475.2,282.2L484.8,307.2M479.1,274.4L493.1,268.8M476.5,277.1L511.9,279.9M464.8,278.0L448.3,280.4M467.0,277.1L432.8,278.8M473.8,279.9L480.5,311.3M476.4,276.8L496.4,276.7M477.5,275.7L491.5,272.2M472.1,278.4L456.5,301.8M467.8,282.1L463.4,286.7M476.6,276.8L501.2,276.8M466.7,278.7L447.6,284.4M474.8,278.8L483.7,289.3M475.7,276.1L486.1,273.5M465.3,275.7L446.1,273.0M475.8,277.8L488.3,282.5M469.2,274.5L453.2,265.0M479.0,271.8L495.9,257.6M481.1,274.6L489.8,272.2M466.3,281.2L464.4,282.5M476.1,279.1L480.4,282.4M471.2,284.4L463.5,315.2M466.4,280.5L450.7,289.1M475.0,271.8L483.5,249.1M477.8,281.0L485.3,287.8M466.3,272.7L443.8,259.1" stroke="#e0e0e0" stroke-width="0.5" stroke-opacity="0.08" fill="none"/>
<path d="M512.6,278.7L524.4,275.8M512.8,277.5L531.3,263.6M509.3,276.1L504.7,264.0M506.3,283.8L494.1,297.5M515.8,281.8L538.5,293.1M503.6,280.4L481.9,284.4M516.7,279.6L533.5,280.6M509.8,276.4L503.3,251.8M513.6,278.4L542.0,270.8M507.7,280.5L476.1,295.2M504.0,283.4L478.5,299.7M510.9,283.3L513.9,310.1M509.2,277.0L493.9,251.8M511.1,282.6L513.1,294.0M514.8,280.2L522.8,282.0M505.6,281.9L501.0,284.4M514.3,277.8L535.0,269.9M509.7,276.5L504.3,258.2M504.3,279.9L501.6,280.2M514.8,286.1L521.0,296.0M511.1,273.2L514.1,245.3M505.1,273.1L490.5,256.7M511.7,282.7L521.1,309.4M510.3,284.9L509.3,312.9M513.8,274.6L531.2,250.6M512.2,284.2L513.3,287.6M510.2,277.1L507.9,262.6M516.9,279.4L524.2,279.6M514.0,279.3L526.0,279.6M510.1,277.4L501.1,241.5M516.7,284.6L538.5,303.7M513.6,283.4L521.6,294.3M508.4,283.6L501.4,298.4M510.4,281.4L510.0,289.3M513.6,284.2L516.4,288.8M508.2,272.6L505.1,263.6M509.8,274.3L508.0,260.4M512.6,284.2L524.5,313.5M516.5,281.2L523.0,283.4M508.1,281.3L487.6,299.3M511.2,277.0L520.2,247.5M505.0,275.9L498.3,271.8M511.6,276.2L521.4,248.3M515.1,282.2L534.5,295.2M514.1,283.5L519.8,290.1M513.1,281.3L532.3,296.7M510.2,284.5L509.4,300.6M509.5,272.7L509.0,270.0M511.6,285.1L513.6,296.3M507.7,272.0L500.6,253.7M512.2,285.1L515.6,296.5M510.3,282.4L509.6,292.4M511.4,272.8L515.0,245.6M514.1,278.2L542.3,270.8M509.7,281.1L498.3,307.3M508.9,277.9L501.9,272.1M502.6,278.5L497.5,278.1M512.7,277.1L526.7,263.4M514.3,282.7L528.0,295.6M507.1,283.2L490.7,302.3M510.8,277.1L512.4,267.7M507.9,281.4L492.8,294.4M508.6,275.9L503.0,265.9M503.7,280.2L480.5,283.6M505.0,284.9L495.2,295.2M512.7,278.2L535.6,268.1M507.1,280.2L483.6,286.9M518.1,281.0L548.1,288.2M514.5,283.4L526.2,295.7M508.4,285.6L507.3,289.2M510.8,277.0L513.3,257.5M504.1,284.2L501.6,286.2M517.0,281.4L526.9,284.7M511.9,280.8L518.2,288.0M514.2,285.4L523.3,300.4M513.8,285.2L517.2,291.2M508.3,280.3L493.7,287.7M510.6,281.7L512.2,317.5M510.0,286.9L508.6,310.4M517.2,274.6L529.4,266.2M506.7,276.3L496.8,268.7M510.0,276.7L503.9,248.9M511.3,281.5L523.6,314.8M511.8,276.1L517.8,261.8M510.2,287.5L509.8,302.0M512.8,282.3L531.2,307.1M512.4,282.7L525.1,306.9M513.3,285.9L518.6,298.9M511.6,277.9L527.5,259.4M511.2,271.5L512.8,252.2M517.5,277.0L528.1,273.7M512.2,275.4L517.5,264.1M507.5,282.2L496.9,292.9M516.5,284.2L522.3,289.0M504.0,283.3L486.8,294.1M510.8,271.3L511.1,263.3M512.7,273.0L523.5,242.5M510.6,275.8L511.5,245.8M506.4,273.1L499.3,262.5M513.1,282.1L527.2,297.8M513.7,272.6L518.7,262.0M512.0,277.1L531.0,250.2M516.3,276.8L539.5,267.3M506.2,273.0L504.8,271.1M506.7,278.0L489.1,272.6M512.0,271.8L517.2,247.4M511.2,282.5L514.7,297.6M512.0,280.3L525.4,290.1M511.1,277.1L514.9,264.5M513.2,280.4L538.9,292.1M503.6,280.9L490.3,284.1M516.2,277.5L527.7,274.1M516.6,274.5L528.6,265.1M509.7,271.7L508.7,261.3M505.5,276.7L500.1,274.0M512.9,274.9L522.1,257.8M505.2,282.3L479.8,297.0M511.6,283.2L515.6,298.1M512.9,278.6L539.3,271.5M515.4,276.3L518.6,274.3M506.3,281.1L482.7,291.8M516.5,283.1L531.0,292.6M511.3,276.1L515.2,260.4M510.4,276.0L509.4,246.1M513.9,276.1L539.4,253.1M504.7,284.6L488.4,299.8M511.7,282.9L515.8,296.1M509.9,273.9L508.9,265.1M507.9,279.2L481.5,279.1M515.7,277.7L548.3,268.7M512.7,271.7L514.4,265.7M503.4,276.8L480.3,269.1M508.5,281.5L486.7,307.3M518.1,280.3L534.1,282.7M514.6,276.2L541.2,257.1M512.9,278.1L533.9,268.7M507.4,275.9L488.0,254.9M507.7,277.1L497.4,269.4M506.3,281.5L489.3,290.8M513.8,281.4L517.7,283.9M509.8,276.0L504.0,248.4M510.4,282.1L509.6,303.5M508.1,277.4L481.6,257.4M504.7,275.8L484.2,263.5M509.7,275.8L503.4,249.8M511.6,277.5L529.9,247.8M512.6,278.4L531.2,271.6M516.1,281.8L540.3,293.2M514.2,283.9L524.7,296.8M517.3,279.1L529.2,278.9M510.6,282.0L510.9,293.7M507.4,281.2L487.3,293.9M511.7,281.1L518.5,292.1M512.3,284.0L516.8,296.2M512.4,283.4L519.9,300.4M518.4,277.8L533.5,275.3M504.9,280.2L496.2,281.8M511.8,280.9L518.9,289.9M509.2,275.0L499.0,242.8M508.0,282.4L497.4,296.3" stroke="#e0e0e0" stroke-width="0.5" stroke-opacity="0.08" fill="none"/>
<g fill="#141414" opacity="0.65" filter="url(#blur05)"><ellipse cx="511.8" cy="212.9" rx="0.9" ry="1.4"/><ellipse cx="496.4" cy="162.8" rx="1.4" ry="1.3"/><ellipse cx="468.1" cy="243.9" rx="1.4" ry="1.1"/><ellipse cx="478.2" cy="200.8" rx="1.2" ry="1.3"/><ellipse cx="440.9" cy="209.6" rx="1.4" ry="1.4"/><ellipse cx="498.7" cy="250.0" rx="1.0" ry="1.5"/><ellipse cx="493.4" cy="214.3" rx="0.9" ry="0.9"/><ellipse cx="538.7" cy="266.1" rx="0.8" ry="1.0"/><ellipse cx="484.4" cy="226.4" rx="1.1" ry="1.4"/><ellipse cx="467.5" cy="231.2" rx="1.5" ry="1.2"/><ellipse cx="484.0" cy="205.2" rx="1.1" ry="1.2"/><ellipse cx="524.2" cy="195.9" rx="1.1" ry="1.1"/><ellipse cx="492.1" cy="197.9" rx="1.0" ry="1.4"/><ellipse cx="442.8" cy="251.7" rx="0.8" ry="0.9"/><ellipse cx="429.7" cy="266.7" rx="0.9" ry="1.0"/><ellipse cx="429.5" cy="196.3" rx="1.3" ry="1.3"/><ellipse cx="540.3" cy="285.1" rx="1.2" ry="1.4"/><ellipse cx="433.6" cy="282.3" rx="1.1" ry="0.9"/><ellipse cx="472.1" cy="174.1" rx="1.4" ry="1.3"/><ellipse cx="427.0" cy="169.3" rx="0.9" ry="0.8"/><ellipse cx="514.1" cy="243.9" rx="0.9" ry="0.9"/><ellipse cx="445.5" cy="241.2" rx="1.3" ry="1.5"/><ellipse cx="478.5" cy="212.8" rx="1.0" ry="1.0"/><ellipse cx="548.7" cy="291.3" rx="1.3" ry="0.9"/><ellipse cx="445.4" cy="181.8" rx="1.0" ry="1.3"/><ellipse cx="429.7" cy="230.9" rx="1.3" ry="0.8"/><ellipse cx="496.8" cy="220.7" rx="1.4" ry="1.2"/><ellipse cx="465.8" cy="213.5" rx="1.5" ry="1.4"/><ellipse cx="540.9" cy="234.9" rx="0.9" ry="0.9"/><ellipse cx="422.6" cy="266.3" rx="1.4" ry="1.2"/><ellipse cx="422.7" cy="265.8" rx="1.1" ry="1.3"/><ellipse cx="496.1" cy="256.7" rx="1.1" ry="1.5"/><ellipse cx="546.2" cy="282.8" rx="1.2" ry="1.0"/><ellipse cx="471.0" cy="197.0" rx="1.4" ry="1.4"/><ellipse cx="550.8" cy="251.4" rx="1.0" ry="1.3"/><ellipse cx="456.1" cy="241.4" rx="0.9" ry="1.4"/><ellipse cx="485.5" cy="197.8" rx="1.4" ry="0.9"/><ellipse cx="542.9" cy="260.4" rx="0.9" ry="1.3"/><ellipse cx="498.2" cy="217.5" rx="1.5" ry="0.9"/><ellipse cx="523.0" cy="175.4" rx="1.0" ry="0.9"/><ellipse cx="535.3" cy="219.4" rx="1.3" ry="1.0"/><ellipse cx="516.9" cy="246.3" rx="0.9" ry="1.1"/><ellipse cx="515.8" cy="189.9" rx="1.3" ry="1.0"/><ellipse cx="544.6" cy="291.7" rx="1.1" ry="1.2"/><ellipse cx="483.5" cy="177.4" rx="1.3" ry="0.9"/></g>
<ellipse cx="473.1" cy="276.8" rx="6.4" ry="5.6" fill="#fff" opacity="0.36" filter="url(#blur3)"/>
<ellipse cx="473.1" cy="276.8" rx="2.9" ry="2.5" fill="#fff" opacity="0.95" filter="url(#blur12)"/>
<ellipse cx="510.5" cy="279.2" rx="6.0" ry="5.6" fill="#fff" opacity="0.36" filter="url(#blur3)"/>
<ellipse cx="510.5" cy="279.2" rx="2.7" ry="2.5" fill="#fff" opacity="0.95" filter="url(#blur12)"/>
<text x="549.1" y="175.7" text-anchor="end" class="tm">70 min</text>
</g>
<g clip-path="url(#clip30)">
<rect x="563" y="160" width="134" height="134" fill="#2f2f2f"/>
<rect x="563" y="160" width="134" height="134" filter="url(#grain)" opacity="0.05"/>
<rect x="563" y="160" width="134" height="134" filter="url(#grainD)" opacity="0.22"/>
<rect x="563" y="160" width="134" height="134" fill="url(#rg30)"/>
<rect x="563" y="160" width="134" height="134" fill="url(#gc31)"/>
<rect x="563" y="160" width="134" height="134" fill="url(#rg33)"/>
<rect x="563" y="160" width="134" height="134" fill="url(#gc34)"/>
<g mask="url(#m30)"><rect x="563" y="160" width="134" height="134" filter="url(#grain)" opacity="0.28"/></g>
<path d="M613.1,266.8L612.3,265.2M614.2,274.2L584.6,266.4M614.6,272.2L602.9,258.7M619.0,270.1L620.9,265.6M623.9,279.2L648.6,294.2M622.0,276.0L640.7,280.1M616.1,270.7L610.4,242.5M619.4,273.8L630.7,268.7M618.1,272.0L622.0,263.0M613.9,274.9L596.8,274.9M623.6,271.7L639.2,264.4M616.9,278.3L616.9,314.0M624.2,270.0L641.2,258.7M617.6,269.3L620.9,245.3M618.4,272.9L631.4,256.2M622.6,271.4L647.4,256.5M616.7,269.8L616.3,258.3M620.6,267.3L634.9,238.4M620.0,279.8L633.7,301.6M614.6,276.5L604.9,283.1M613.2,275.6L592.1,279.6M612.0,280.3L598.5,295.1M610.0,270.5L604.8,267.3M610.9,281.5L589.5,305.0M622.5,281.7L634.8,296.7M613.9,277.6L596.6,292.8M619.5,275.4L632.4,277.7M615.7,280.6L610.5,304.0M621.1,273.5L646.9,264.8M622.3,273.1L645.3,265.5M619.8,271.6L637.1,251.3M610.0,269.5L601.9,263.3M617.0,277.2L618.4,316.0M620.2,275.1L644.1,276.6M609.1,274.5L604.0,274.3M612.8,267.5L601.5,247.3M623.8,274.6L648.2,273.3M621.8,275.0L627.5,275.0M622.7,273.8L635.9,271.2M625.2,275.4L639.6,276.2M615.3,273.9L586.3,255.6M619.2,282.4L621.3,289.2M619.9,277.1L648.8,298.6M619.9,272.1L635.9,257.2M623.6,273.5L638.8,270.2M625.0,278.5L650.1,289.8M619.8,277.3L642.7,296.4M620.8,280.2L629.5,291.7M625.5,272.3L656.9,262.9M614.8,272.8L595.1,253.5M616.2,270.6L612.8,248.0M619.2,273.2L631.0,264.7M620.2,280.0L624.5,286.6M618.6,269.8L621.4,261.3M612.6,272.7L592.4,262.5M614.8,274.3L607.8,272.3M610.5,278.3L602.0,282.8M617.1,278.4L618.7,311.0M620.7,277.4L637.6,288.5M615.2,277.8L599.4,304.3M614.5,270.5L599.3,242.9M610.8,274.8L577.4,274.1M617.9,277.1L621.6,285.1M613.7,280.5L611.0,285.3M612.0,277.4L599.9,283.8M619.6,273.8L632.6,268.3M614.1,282.8L610.2,293.4M616.1,272.0L610.6,252.6M624.5,277.1L629.4,278.6M613.1,269.8L608.4,263.5M620.8,276.4L640.9,284.1M622.5,279.1L643.7,295.0M610.3,274.5L602.4,273.9M614.7,275.9L588.7,287.4M619.7,272.9L624.4,269.7M614.9,276.3L604.4,284.2M615.3,271.0L600.9,236.3M616.6,278.3L613.7,305.9M612.9,277.8L591.2,293.4M620.1,279.6L623.2,284.3M619.4,274.8L656.2,272.6M613.7,274.9L591.8,274.5M613.2,268.2L604.7,252.7M614.9,282.3L606.5,313.3M611.7,275.8L603.4,277.2M621.7,279.8L639.0,297.6M615.0,273.9L580.6,255.5M616.3,272.3L609.2,240.3M614.3,280.3L612.2,284.6M615.8,268.2L613.4,254.7M614.4,277.7L595.1,299.0M618.7,274.7L640.1,271.7M623.6,279.3L644.6,292.8M611.6,268.8L607.7,264.2M616.0,270.5L614.3,262.4M615.9,273.0L612.6,266.9M611.5,282.0L594.0,305.0M613.8,281.7L600.7,310.4M622.7,268.3L635.7,253.6M613.3,270.3L592.0,243.2M618.6,279.9L625.5,299.6M614.0,279.6L605.8,293.1M613.7,272.9L603.0,266.3M612.1,274.8L591.3,274.4M614.0,270.1L609.1,261.9M615.8,281.7L611.3,308.9M617.6,271.4L622.0,249.3M620.9,272.9L640.0,263.2M615.2,281.6L611.3,296.5M619.8,268.5L627.3,252.3M617.9,279.2L622.4,298.2M614.4,281.7L609.7,294.5M616.5,271.4L615.2,259.1M618.3,268.4L623.5,245.0M614.4,272.1L595.8,251.0M618.8,275.7L636.3,282.7M623.3,273.3L642.5,268.7M620.3,274.2L651.7,267.5M613.0,281.3L610.4,285.7M616.5,270.5L614.9,249.9M616.0,281.8L613.8,299.8M623.3,270.0L646.2,252.3M613.1,276.4L595.6,283.4M619.8,274.4L631.8,272.5M615.4,282.7L609.3,313.6M612.9,282.1L598.7,307.2M610.3,278.2L603.1,281.7M611.0,280.8L607.8,284.1M611.2,277.2L596.4,283.1M616.7,279.5L616.6,284.6M613.7,278.0L610.1,281.3M617.4,268.2L618.3,255.0M615.5,273.5L606.1,264.2M615.1,271.4L603.6,249.0M619.5,282.8L628.4,310.3M617.5,280.8L619.9,303.1M615.1,278.6L612.4,284.1M613.5,270.6L599.1,252.2M619.8,277.7L628.4,286.0M609.7,279.1L598.7,285.4M619.5,277.3L647.9,302.6M620.6,270.2L627.5,261.5M611.5,280.2L609.6,282.0M619.6,268.0L623.5,258.3M614.7,275.2L575.7,280.3M612.3,279.2L604.8,286.2M617.9,269.2L623.3,238.7M615.0,276.6L590.0,297.9M616.6,279.9L614.8,308.7M622.0,274.7L628.9,274.4M617.5,277.3L619.0,283.7M621.0,277.6L634.7,286.4M610.1,274.6L598.4,274.0M613.9,274.6L575.7,270.7M612.4,274.6L591.7,273.2M622.1,268.7L627.1,262.7M613.0,279.8L604.3,290.5M614.7,274.0L600.0,267.8M619.4,274.2L637.3,269.0M614.6,271.4L602.2,252.8" stroke="#e0e0e0" stroke-width="0.5" stroke-opacity="0.08" fill="none"/>
<path d="M652.5,281.4L637.5,309.2M650.7,279.9L620.3,297.3M649.2,281.5L643.1,285.8M652.1,273.9L642.7,258.1M654.9,282.7L658.1,311.5M657.8,271.8L664.6,259.8M662.7,279.3L669.9,280.6M652.3,273.1L641.9,250.2M651.5,278.3L639.6,280.4M652.2,275.0L635.5,253.4M650.7,273.1L646.4,267.5M656.3,281.3L666.2,299.8M649.6,276.2L642.1,273.7M651.5,275.2L644.7,269.1M651.8,272.4L643.1,254.3M655.0,274.6L659.4,251.3M649.1,279.8L621.5,290.2M654.5,272.9L654.8,257.5M660.6,276.6L688.7,271.2M655.9,279.0L676.5,295.3M660.6,275.1L690.7,261.8M654.1,280.8L650.5,313.3M655.3,276.2L666.3,255.5M660.2,273.0L671.9,263.3M651.5,270.6L644.7,254.0M655.6,281.7L665.3,313.5M656.6,278.2L673.6,281.0M656.7,278.9L680.1,290.3M656.4,280.9L664.1,293.0M661.2,274.0L687.3,259.7M661.7,277.3L677.1,276.3M653.0,285.0L647.0,315.3M654.1,275.4L652.6,261.9M659.7,275.1L677.9,265.9M658.7,272.8L663.0,267.7M649.6,278.9L621.5,285.4M655.6,281.3L667.3,314.8M654.3,274.3L653.3,242.6M653.3,274.7L647.2,257.7M655.3,282.0L662.4,316.1M652.5,277.7L629.8,276.3M654.6,270.0L655.1,245.3M651.8,281.1L644.8,289.8M653.9,273.3L651.1,248.3M646.4,276.5L640.9,275.7M647.3,279.1L629.9,282.2M655.8,281.8L664.6,307.9M655.8,274.4L658.9,267.0M651.5,274.5L638.5,259.7M650.2,275.5L640.6,270.4M657.9,277.8L688.6,278.2M657.3,272.6L667.2,254.8M649.4,272.7L645.5,268.8M652.5,284.8L644.9,312.8M652.3,273.5L639.3,246.6M653.0,275.1L636.3,243.2M658.7,280.9L672.0,290.7M659.0,284.1L663.7,290.5M652.1,279.7L644.1,286.5M649.9,275.4L641.4,270.9M649.3,276.6L632.3,272.5M658.7,270.8L659.2,269.9M656.6,284.5L657.5,287.2M651.5,276.4L631.0,266.8M655.7,271.1L658.0,259.7M655.3,284.0L658.1,304.5M652.9,279.4L637.8,295.1M652.7,275.6L635.3,253.7M652.1,277.0L623.9,267.8M655.5,276.0L673.7,246.9M654.4,281.3L654.5,289.2M657.4,279.6L675.2,290.3M653.1,281.9L647.1,300.1M655.0,275.3L662.0,247.0M655.1,281.8L655.9,286.6M660.0,282.3L678.5,297.2M656.4,277.7L669.8,277.4M654.8,269.6L655.3,256.0M652.6,279.2L639.8,289.5M659.0,276.3L678.1,269.7M647.5,280.7L623.7,290.6M649.9,278.5L640.2,280.0M659.3,273.8L671.2,264.1M649.1,275.7L632.6,269.2M654.6,285.6L655.2,304.3M661.3,281.6L672.3,287.6M660.4,277.0L663.4,276.6M651.0,274.1L630.4,251.5M659.0,282.7L666.8,291.2M653.6,271.6L652.3,262.7M653.4,276.2L638.0,253.1M648.9,279.9L636.6,284.6M651.1,283.3L647.8,288.7M653.5,281.6L646.6,310.8M652.0,277.1L621.3,268.0M653.4,269.6L653.1,267.0M658.7,278.5L685.8,282.8M656.6,282.5L663.5,297.1M649.8,280.5L643.6,284.2M653.0,282.0L642.2,315.4M646.6,281.2L639.7,284.1M651.1,284.6L641.6,304.2M651.5,280.1L628.7,298.2M658.2,280.9L662.2,284.2M657.8,274.4L665.1,267.0M654.6,275.0L655.8,260.3M646.2,276.8L632.3,275.1M658.9,274.4L667.4,268.0M650.2,280.2L645.9,282.7M659.4,274.9L670.2,268.5M652.4,269.9L651.8,267.4M659.6,282.1L668.6,289.4M657.0,278.1L674.9,280.3M651.6,278.3L645.3,279.3M654.8,280.1L656.3,288.9M655.3,280.3L663.0,301.5M655.9,274.7L663.9,258.0M654.5,279.9L656.4,313.2M654.0,269.5L653.8,266.0M647.9,282.0L631.1,292.9M659.7,281.7L663.1,284.1M651.3,275.9L627.4,261.2M649.6,277.9L639.7,278.1M653.6,281.5L649.0,304.6M654.0,280.1L649.9,306.6M655.5,274.6L662.1,254.5M658.3,281.3L673.1,294.3M653.5,273.3L650.5,257.6M661.1,272.4L668.0,266.9M660.9,272.6L685.9,252.6M654.1,283.8L652.8,312.4M656.2,283.8L665.9,316.6M655.2,275.7L664.1,253.1M656.7,275.1L663.7,267.0M650.7,274.5L643.3,267.9M653.0,271.6L651.7,266.3M659.4,281.6L673.3,292.4M653.2,275.0L650.5,268.5M659.0,276.6L674.9,272.6M649.5,282.7L632.6,299.7M651.1,273.2L641.8,260.4M646.1,277.0L639.8,276.4M662.8,275.9L687.1,270.5M651.1,278.5L619.8,285.4M654.0,269.5L653.0,246.3M656.2,274.7L672.8,246.0M655.3,274.0L660.0,254.6M649.2,283.4L631.2,302.9M656.0,275.4L671.2,252.9M656.2,280.5L669.4,300.0M652.9,280.2L648.2,288.0M652.8,270.3L651.1,262.3M652.6,281.2L637.3,309.3M654.2,279.6L652.1,299.0M652.7,278.5L635.3,286.0M655.5,276.5L667.7,262.0M657.8,276.9L669.9,273.9M661.0,278.8L666.1,279.6M651.4,276.1L632.8,265.6M653.4,282.0L645.3,316.4" stroke="#e0e0e0" stroke-width="0.5" stroke-opacity="0.08" fill="none"/>
<g fill="#141414" opacity="0.65" filter="url(#blur05)"><ellipse cx="693.6" cy="277.3" rx="0.9" ry="1.4"/><ellipse cx="567.7" cy="254.4" rx="1.4" ry="1.3"/><ellipse cx="585.1" cy="232.2" rx="1.0" ry="1.1"/><ellipse cx="589.9" cy="254.1" rx="1.2" ry="1.3"/><ellipse cx="646.7" cy="239.9" rx="1.4" ry="1.4"/><ellipse cx="638.7" cy="204.4" rx="1.4" ry="1.1"/><ellipse cx="578.3" cy="205.3" rx="1.3" ry="1.5"/><ellipse cx="648.9" cy="248.1" rx="1.5" ry="1.3"/><ellipse cx="622.9" cy="222.0" rx="1.3" ry="1.0"/><ellipse cx="579.3" cy="242.6" rx="1.4" ry="1.0"/><ellipse cx="581.6" cy="179.6" rx="1.1" ry="1.0"/><ellipse cx="688.4" cy="291.6" rx="1.1" ry="1.4"/><ellipse cx="647.1" cy="184.5" rx="1.5" ry="0.9"/><ellipse cx="574.9" cy="220.8" rx="0.8" ry="1.1"/><ellipse cx="666.4" cy="238.2" rx="1.0" ry="1.0"/><ellipse cx="628.9" cy="213.4" rx="1.3" ry="1.2"/><ellipse cx="607.0" cy="240.9" rx="1.5" ry="0.9"/><ellipse cx="608.6" cy="163.6" rx="0.9" ry="0.8"/><ellipse cx="673.8" cy="238.2" rx="1.2" ry="0.8"/><ellipse cx="614.9" cy="196.0" rx="1.2" ry="0.8"/><ellipse cx="635.5" cy="210.8" rx="1.1" ry="1.1"/><ellipse cx="578.3" cy="257.1" rx="1.4" ry="1.2"/><ellipse cx="580.1" cy="239.9" rx="1.4" ry="1.5"/><ellipse cx="663.6" cy="167.9" rx="1.4" ry="1.3"/><ellipse cx="597.2" cy="237.0" rx="1.1" ry="1.0"/><ellipse cx="664.0" cy="242.1" rx="1.0" ry="1.2"/><ellipse cx="685.7" cy="235.7" rx="1.4" ry="1.2"/><ellipse cx="694.0" cy="165.8" rx="1.1" ry="1.2"/><ellipse cx="646.0" cy="224.1" rx="1.2" ry="1.2"/><ellipse cx="566.8" cy="203.6" rx="1.4" ry="0.8"/><ellipse cx="667.7" cy="166.0" rx="1.3" ry="1.4"/><ellipse cx="596.0" cy="211.6" rx="1.0" ry="1.3"/><ellipse cx="633.7" cy="240.7" rx="1.0" ry="1.2"/><ellipse cx="689.1" cy="263.3" rx="1.5" ry="1.0"/><ellipse cx="632.1" cy="212.1" rx="1.0" ry="1.4"/><ellipse cx="587.7" cy="234.6" rx="1.3" ry="1.5"/><ellipse cx="567.4" cy="197.2" rx="1.1" ry="1.5"/><ellipse cx="586.2" cy="271.3" rx="1.1" ry="1.2"/><ellipse cx="685.6" cy="170.4" rx="1.0" ry="0.9"/><ellipse cx="582.4" cy="201.5" rx="1.3" ry="1.2"/><ellipse cx="580.8" cy="266.2" rx="1.2" ry="0.9"/><ellipse cx="670.3" cy="191.8" rx="0.8" ry="1.4"/><ellipse cx="672.4" cy="174.7" rx="1.3" ry="1.3"/><ellipse cx="693.0" cy="204.6" rx="1.4" ry="1.4"/><ellipse cx="638.7" cy="197.8" rx="1.0" ry="1.2"/><ellipse cx="582.6" cy="273.7" rx="1.4" ry="1.0"/><ellipse cx="655.6" cy="249.5" rx="0.9" ry="1.3"/><ellipse cx="664.6" cy="201.8" rx="0.9" ry="1.0"/><ellipse cx="665.3" cy="222.7" rx="1.4" ry="0.9"/><ellipse cx="578.8" cy="207.4" rx="1.4" ry="0.9"/><ellipse cx="574.5" cy="259.9" rx="0.9" ry="1.3"/><ellipse cx="575.8" cy="194.1" rx="1.3" ry="1.4"/><ellipse cx="618.2" cy="220.4" rx="0.8" ry="1.0"/><ellipse cx="634.1" cy="252.9" rx="0.9" ry="1.1"/><ellipse cx="603.1" cy="198.7" rx="1.3" ry="0.9"/></g>
<ellipse cx="616.9" cy="274.9" rx="6.4" ry="5.6" fill="#fff" opacity="0.36" filter="url(#blur3)"/>
<ellipse cx="616.9" cy="274.9" rx="2.9" ry="2.5" fill="#fff" opacity="0.95" filter="url(#blur12)"/>
<ellipse cx="654.4" cy="277.8" rx="6.0" ry="5.6" fill="#fff" opacity="0.36" filter="url(#blur3)"/>
<ellipse cx="654.4" cy="277.8" rx="2.7" ry="2.5" fill="#fff" opacity="0.95" filter="url(#blur12)"/>
<text x="694.0" y="175.7" text-anchor="end" class="tm">80 min</text>
</g>
<text class="rl" x="80" y="66.0" text-anchor="middle">pellicle aster</text>
<text class="rl" x="80" y="80.8" text-anchor="middle">+300 nM</text>
<text class="rl" x="80" y="95.1" text-anchor="middle">MCAK-Q710</text>
<text class="rl" x="80" y="216.0" text-anchor="middle">pellicle aster</text>
<text class="rl" x="80" y="230.8" text-anchor="middle">+495 nM</text>
<text class="rl" x="80" y="245.1" text-anchor="middle">MCAK-Q710</text>
<text class="pl" x="6.8" y="23.6">A</text>
<text class="pl" x="6.6" y="343.2">B</text>
<text class="pl" x="349.3" y="343.2">C</text>
<path d="M72.7,346.7 L72.7,537.2 L314,537.2" stroke="#1a1a1a" stroke-width="1.5" fill="none" stroke-linejoin="miter"/>
<path d="M72.7,346.7 L75.7,346.7" stroke="#1a1a1a" stroke-width="1.5"/>
<text class="bt" x="64.5" y="515.0" text-anchor="end">3</text>
<text class="bt" x="64.5" y="487.8" text-anchor="end">4</text>
<text class="bt" x="64.5" y="460.6" text-anchor="end">5</text>
<text class="bt" x="64.5" y="433.4" text-anchor="end">6</text>
<text class="bt" x="64.5" y="406.2" text-anchor="end">7</text>
<text class="bt" x="64.5" y="379.0" text-anchor="end">8</text>
<text class="bt" x="64.5" y="542.2" text-anchor="end">2</text>
<path d="M72.7,510.0L75.7,510.0M72.7,482.8L75.7,482.8M72.7,455.6L75.7,455.6M72.7,428.4L75.7,428.4M72.7,401.2L75.7,401.2M72.7,374.0L75.7,374.0M102.9,537.2L102.9,533.7M133.0,537.2L133.0,533.7M163.2,537.2L163.2,533.7M193.3,537.2L193.3,533.7M223.5,537.2L223.5,533.7M253.7,537.2L253.7,533.7M283.8,537.2L283.8,533.7M314.0,537.2L314.0,533.7" stroke="#1a1a1a" stroke-width="1.5"/>
<text class="bt" x="72.2" y="555.8" text-anchor="middle">0</text>
<text class="bt" x="164.3" y="555.8" text-anchor="middle">100</text>
<text class="bt" x="253.9" y="555.8" text-anchor="middle">200</text>
<text class="bl" x="198.5" y="575.2" text-anchor="middle">distance [μm]</text>
<text class="bl" transform="translate(45,443.3) rotate(-90)" text-anchor="middle">fluorescence intensity [AU]</text>
<path d="M99.0,399.5 C100.0,402.8 102.7,413.1 105.0,419.0 C107.3,424.9 110.5,430.9 113.0,435.0 C115.5,439.1 117.4,440.4 120.0,443.4 C122.6,446.4 125.7,450.1 128.5,452.8 C131.3,455.5 134.2,457.2 137.0,459.7 C139.8,462.2 142.5,465.3 145.0,468.0 C147.5,470.7 149.5,473.0 152.0,476.0 C154.5,479.0 157.0,482.0 160.0,486.0 C163.0,490.0 166.7,495.5 170.0,500.0 C173.3,504.5 176.7,510.3 180.0,513.0 C183.3,515.7 186.5,515.7 190.0,516.4 C193.5,517.1 198.0,517.7 201.0,517.0 C204.0,516.3 205.6,513.6 208.0,512.0 C210.4,510.4 213.0,508.0 215.5,507.1 C218.0,506.2 220.4,506.8 223.0,506.5 C225.6,506.2 227.6,506.7 231.0,505.6 C234.4,504.6 239.5,502.3 243.3,500.2 C247.2,498.1 251.0,494.6 254.1,493.2 C257.2,491.8 259.3,492.1 261.9,491.7 C264.5,491.3 266.5,490.9 269.6,490.9 C272.7,490.9 277.0,491.0 280.4,491.7 C283.8,492.4 286.6,493.8 289.7,494.8 C292.8,495.8 296.4,497.2 299.0,497.8 C301.6,498.4 304.2,498.5 305.2,498.6" stroke="#3590da" stroke-width="1.6" fill="none" stroke-linejoin="round" stroke-linecap="round"/>
<path d="M99.0,368.5 C99.7,373.1 101.3,386.8 103.0,396.0 C104.7,405.2 107.0,416.2 109.0,424.0 C111.0,431.8 112.8,437.5 115.0,443.0 C117.2,448.5 119.5,453.2 122.0,457.0 C124.5,460.8 127.0,463.5 130.0,466.0 C133.0,468.5 136.7,470.0 140.0,472.0 C143.3,474.0 146.7,475.3 150.0,478.0 C153.3,480.7 156.7,484.2 160.0,488.0 C163.3,491.8 166.7,496.7 170.0,501.0 C173.3,505.3 177.0,511.2 180.0,514.0 C183.0,516.8 185.3,517.5 188.0,518.0 C190.7,518.5 193.3,517.0 196.0,517.0 C198.7,517.0 201.3,518.5 204.0,518.0 C206.7,517.5 209.0,515.3 212.0,514.0 C215.0,512.7 218.7,511.0 222.0,510.0 C225.3,509.0 227.9,509.2 232.0,508.0 C236.1,506.8 241.4,505.0 246.4,502.5 C251.4,500.0 258.0,495.8 261.9,493.2 C265.8,490.6 267.0,488.3 269.6,487.0 C272.2,485.7 274.8,485.2 277.4,485.5 C280.0,485.8 282.8,486.8 285.1,488.6 C287.4,490.4 289.2,492.7 291.3,496.3 C293.4,499.9 295.2,503.5 297.5,510.2 C299.8,516.9 303.9,532.1 305.2,536.5" stroke="#4579c6" stroke-width="1.6" fill="none" stroke-linejoin="round" stroke-linecap="round"/>
<path d="M99.0,459.2 C100.2,458.2 103.7,454.6 106.0,453.0 C108.3,451.4 110.7,450.2 113.0,449.5 C115.3,448.8 117.4,448.6 120.0,448.5 C122.6,448.4 125.7,448.4 128.5,449.0 C131.3,449.6 134.2,450.8 137.0,452.0 C139.8,453.2 143.0,454.5 145.0,456.2 C147.0,457.9 147.5,459.7 149.0,462.0 C150.5,464.3 152.0,467.7 154.0,470.0 C156.0,472.3 158.7,473.3 161.0,476.0 C163.3,478.7 165.2,482.1 168.0,486.0 C170.8,489.9 175.3,496.1 178.0,499.5 C180.7,502.9 181.8,505.2 184.0,506.7 C186.2,508.2 188.5,507.7 191.0,508.7 C193.5,509.7 196.7,513.0 199.0,512.8 C201.3,512.6 203.5,508.6 205.0,507.7 C206.5,506.8 206.2,506.6 208.0,507.5 C209.8,508.4 213.0,513.3 215.5,513.0 C218.0,512.7 220.6,505.8 223.2,505.6 C225.8,505.4 228.2,511.6 231.0,511.8 C233.8,512.0 236.9,508.9 240.2,507.1 C243.5,505.3 247.4,503.1 251.0,500.9 C254.6,498.7 258.0,495.4 261.9,494.0 C265.8,492.6 270.2,492.3 274.3,492.4 C278.4,492.5 283.5,493.4 286.6,494.8 C289.7,496.2 290.7,498.1 292.8,500.9 C294.9,503.7 296.9,509.2 299.0,511.8 C301.1,514.4 304.2,515.6 305.2,516.4" stroke="#5068b6" stroke-width="1.6" fill="none" stroke-linejoin="round" stroke-linecap="round"/>
<path d="M99.0,424.0 C99.8,425.5 102.1,430.0 103.5,433.0 C104.9,436.0 105.8,438.8 107.5,442.0 C109.2,445.2 111.6,449.2 114.0,452.0 C116.4,454.8 119.0,456.4 121.7,458.5 C124.4,460.6 126.2,462.6 129.9,464.6 C133.7,466.7 140.1,468.7 144.2,470.8 C148.3,472.9 151.9,474.6 154.5,477.0 C157.1,479.4 157.4,481.5 160.0,485.0 C162.6,488.5 166.7,493.7 170.0,498.0 C173.3,502.3 176.7,507.3 180.0,511.0 C183.3,514.7 186.7,518.3 190.0,520.0 C193.3,521.7 196.7,521.5 200.0,521.0 C203.3,520.5 206.3,518.0 210.0,517.0 C213.7,516.0 217.8,515.8 222.0,515.0 C226.2,514.2 230.3,513.5 235.0,512.0 C239.7,510.5 245.0,508.3 250.0,506.0 C255.0,503.7 260.0,500.0 265.0,498.0 C270.0,496.0 275.4,493.8 280.0,494.0 C284.6,494.2 289.6,496.4 292.8,499.4 C296.0,502.4 296.9,507.4 299.0,512.0 C301.1,516.6 304.2,524.7 305.2,527.2" stroke="#6a5a9e" stroke-width="1.6" fill="none" stroke-linejoin="round" stroke-linecap="round"/>
<path d="M99.0,459.5 C100.8,459.9 106.5,461.1 110.0,462.0 C113.5,462.9 116.7,464.0 120.0,465.0 C123.3,466.0 126.7,466.8 130.0,468.0 C133.3,469.2 136.7,470.7 140.0,472.0 C143.3,473.3 147.0,474.0 150.0,476.0 C153.0,478.0 155.7,481.2 158.0,484.0 C160.3,486.8 162.0,490.1 164.0,492.8 C166.0,495.6 168.0,497.2 170.0,500.5 C172.0,503.8 173.6,509.0 176.0,512.8 C178.4,516.5 182.6,520.6 184.6,523.0 C186.6,525.4 186.1,526.7 188.0,527.0 C189.9,527.3 193.3,525.0 196.0,525.0 C198.7,525.0 201.0,528.3 204.0,527.0 C207.0,525.7 211.2,518.3 213.9,517.2 C216.6,516.1 217.2,520.7 220.1,520.3 C222.9,519.9 227.7,515.0 231.0,514.9 C234.3,514.8 236.3,519.8 240.2,519.5 C244.0,519.2 250.5,515.6 254.1,513.3 C257.7,511.0 259.3,508.3 261.9,505.6 C264.5,502.9 266.5,499.2 269.6,497.1 C272.7,495.0 276.5,493.1 280.4,493.2 C284.3,493.3 288.7,495.6 292.8,497.8 C296.9,500.0 303.1,505.0 305.2,506.4" stroke="#7d5290" stroke-width="1.6" fill="none" stroke-linejoin="round" stroke-linecap="round"/>
<path d="M99.0,459.2 C100.8,459.2 106.5,459.1 110.0,459.5 C113.5,459.9 116.9,461.4 120.0,461.4 C123.1,461.4 125.7,460.2 128.5,459.7 C131.3,459.2 134.6,458.5 137.0,458.4 C139.4,458.3 141.2,458.4 143.0,459.2 C144.8,460.0 146.2,461.1 148.0,463.0 C149.8,464.9 151.8,468.0 154.0,470.8 C156.2,473.6 158.7,476.9 161.0,480.0 C163.3,483.1 165.5,485.1 168.0,489.6 C170.5,494.1 173.3,501.9 176.0,507.0 C178.7,512.1 181.7,517.2 184.0,520.0 C186.3,522.8 187.7,523.7 190.0,524.0 C192.3,524.3 195.3,522.0 198.0,522.0 C200.7,522.0 203.2,524.5 206.0,524.0 C208.8,523.5 211.8,520.3 215.0,519.0 C218.2,517.7 221.2,516.8 225.0,516.0 C228.8,515.2 233.8,515.2 238.0,514.0 C242.2,512.8 246.0,510.8 250.0,509.0 C254.0,507.2 257.8,505.0 262.0,503.0 C266.2,501.0 269.9,498.8 275.0,497.0 C280.1,495.2 287.8,492.9 292.8,492.4 C297.8,491.9 303.1,493.7 305.2,494.0" stroke="#9a4c74" stroke-width="1.6" fill="none" stroke-linejoin="round" stroke-linecap="round"/>
<path d="M99.0,440.4 C99.9,441.8 101.9,445.7 104.4,448.8 C106.9,451.9 110.4,456.2 113.8,459.2 C117.2,462.2 121.5,465.2 125.0,467.0 C128.5,468.8 131.7,469.0 135.0,470.0 C138.3,471.0 141.7,472.0 145.0,473.0 C148.3,474.0 151.7,473.2 155.0,476.0 C158.3,478.8 161.7,484.8 165.0,490.0 C168.3,495.2 171.7,501.3 175.0,507.0 C178.3,512.7 182.3,520.2 185.0,524.0 C187.7,527.8 188.8,529.3 191.0,530.0 C193.2,530.7 195.5,529.7 198.0,528.0 C200.5,526.3 203.2,522.7 206.0,520.0 C208.8,517.3 212.0,513.7 215.0,512.0 C218.0,510.3 221.2,511.5 224.0,510.0 C226.8,508.5 229.3,504.3 232.0,503.0 C234.7,501.7 236.6,501.7 240.0,502.0 C243.4,502.3 248.9,503.9 252.6,504.8 C256.2,505.7 258.3,507.4 261.9,507.1 C265.5,506.9 270.2,504.7 274.3,503.3 C278.4,501.9 281.5,502.0 286.6,498.6 C291.8,495.2 302.1,485.8 305.2,483.2" stroke="#d23432" stroke-width="1.6" fill="none" stroke-linejoin="round" stroke-linecap="round"/>
<path d="M99.0,424.0 C99.8,426.7 102.5,434.9 104.0,440.0 C105.5,445.1 106.7,450.7 108.0,454.5 C109.3,458.3 110.5,460.4 112.0,463.0 C113.5,465.6 115.2,468.1 117.0,470.0 C118.8,471.9 120.7,473.2 123.0,474.2 C125.3,475.2 128.5,476.0 131.0,476.0 C133.5,476.0 135.7,474.9 138.0,474.2 C140.3,473.5 142.6,472.2 145.0,471.6 C147.4,471.0 150.2,469.7 152.5,470.8 C154.8,471.9 156.5,475.9 158.5,478.5 C160.5,481.1 162.4,483.1 164.4,486.2 C166.4,489.3 168.0,492.8 170.3,497.4 C172.7,502.0 176.1,509.0 178.5,513.8 C180.9,518.6 183.0,523.0 184.6,526.2 C186.2,529.4 186.4,532.1 188.0,533.0 C189.6,533.9 191.8,532.4 194.0,531.3 C196.2,530.2 198.7,528.9 201.0,526.2 C203.3,523.5 205.3,517.6 207.7,514.9 C210.1,512.2 212.9,511.0 215.5,510.2 C218.1,509.4 220.6,511.8 223.2,510.2 C225.8,508.6 228.4,502.6 231.0,500.9 C233.6,499.2 236.1,500.1 238.7,500.2 C241.3,500.3 244.3,502.2 246.4,501.7 C248.5,501.2 248.4,497.1 251.0,497.0 C253.6,496.9 258.8,500.0 261.9,500.9 C265.0,501.8 267.0,502.8 269.6,502.5 C272.2,502.2 274.6,500.7 277.4,499.4 C280.2,498.1 283.5,497.6 286.6,494.8 C289.7,492.0 293.3,486.5 295.9,482.4 C298.5,478.3 300.5,473.5 302.0,470.0 C303.5,466.5 304.3,462.9 304.8,461.5" stroke="#dc2c2a" stroke-width="1.6" fill="none" stroke-linejoin="round" stroke-linecap="round"/>
<path d="M442.2,354.5 L442.2,533.4 M438.3,533.4 L705,533.4" stroke="#858585" stroke-width="1" fill="none"/>
<text class="ct" x="430.3" y="538.8" text-anchor="end">0</text>
<text class="ct" x="430.3" y="516.4" text-anchor="end">2</text>
<text class="ct" x="430.3" y="494.1" text-anchor="end">4</text>
<text class="ct" x="430.3" y="471.7" text-anchor="end">6</text>
<text class="ct" x="430.3" y="449.4" text-anchor="end">8</text>
<text class="ct" x="430.3" y="427.0" text-anchor="end">10</text>
<text class="ct" x="430.3" y="404.6" text-anchor="end">12</text>
<text class="ct" x="430.3" y="382.3" text-anchor="end">14</text>
<text class="ct" x="430.3" y="359.9" text-anchor="end">16</text>
<path d="M438.3,533.4L442.2,533.4M438.3,511.0L442.2,511.0M438.3,488.7L442.2,488.7M438.3,466.3L442.2,466.3M438.3,444.0L442.2,444.0M438.3,421.6L442.2,421.6M438.3,399.2L442.2,399.2M438.3,376.9L442.2,376.9M438.3,354.5L442.2,354.5M442.2,533.4L442.2,537.4M529.6,533.4L529.6,537.4M617.2,533.4L617.2,537.4M704.7,533.4L704.7,537.4" stroke="#858585" stroke-width="1"/>
<text class="ct" x="485.9" y="556.9" text-anchor="middle">300</text>
<text class="ct" x="573.4" y="556.9" text-anchor="middle">375</text>
<text class="ct" x="660.9" y="556.9" text-anchor="middle">495</text>
<text class="cl" x="572.7" y="576.5" text-anchor="middle">+MCAK-Q710 [nM]</text>
<text class="cl" transform="translate(397.3,445.1) rotate(-90)" text-anchor="middle">aster growth velocity [μm/min]</text>
<text class="ct" x="486.0" y="341.5" text-anchor="middle">n=7</text>
<text class="ct" x="572.2" y="341.5" text-anchor="middle">9</text>
<text class="ct" x="658.8" y="341.5" text-anchor="middle">10</text>
<rect x="472.2" y="417.4" width="27.9" height="5.2" fill="#000"/>
<rect x="559.7" y="530.6" width="27.7" height="5.7" fill="#000"/>
<rect x="647.4" y="530.6" width="27.6" height="5.7" fill="#000"/>
<circle cx="481.6" cy="372.7" r="3.5" fill="#fff" stroke="#000" stroke-width="1.5"/>
<circle cx="486.6" cy="371.3" r="3.5" fill="#fff" stroke="#000" stroke-width="1.5"/>
<circle cx="490.5" cy="404.9" r="3.5" fill="#fff" stroke="#000" stroke-width="1.5"/>
<circle cx="486.2" cy="420.1" r="3.5" fill="#fff" stroke="#000" stroke-width="1.5"/>
<circle cx="486.2" cy="433.2" r="3.5" fill="#fff" stroke="#000" stroke-width="1.5"/>
<circle cx="481.6" cy="533.6" r="3.5" fill="#fff" stroke="#000" stroke-width="1.5"/>
<circle cx="490.7" cy="533.6" r="3.5" fill="#fff" stroke="#000" stroke-width="1.5"/>
<circle cx="569.1" cy="533.6" r="3.5" fill="#fff" stroke="#000" stroke-width="1.5"/>
<circle cx="578.0" cy="533.6" r="3.5" fill="#fff" stroke="#000" stroke-width="1.5"/>
<circle cx="656.9" cy="533.6" r="3.5" fill="#fff" stroke="#000" stroke-width="1.5"/>
<circle cx="661.8" cy="533.6" r="3.5" fill="#fff" stroke="#000" stroke-width="1.5"/>
<circle cx="666.1" cy="533.6" r="3.5" fill="#fff" stroke="#000" stroke-width="1.5"/>
</svg>
</body></html>
